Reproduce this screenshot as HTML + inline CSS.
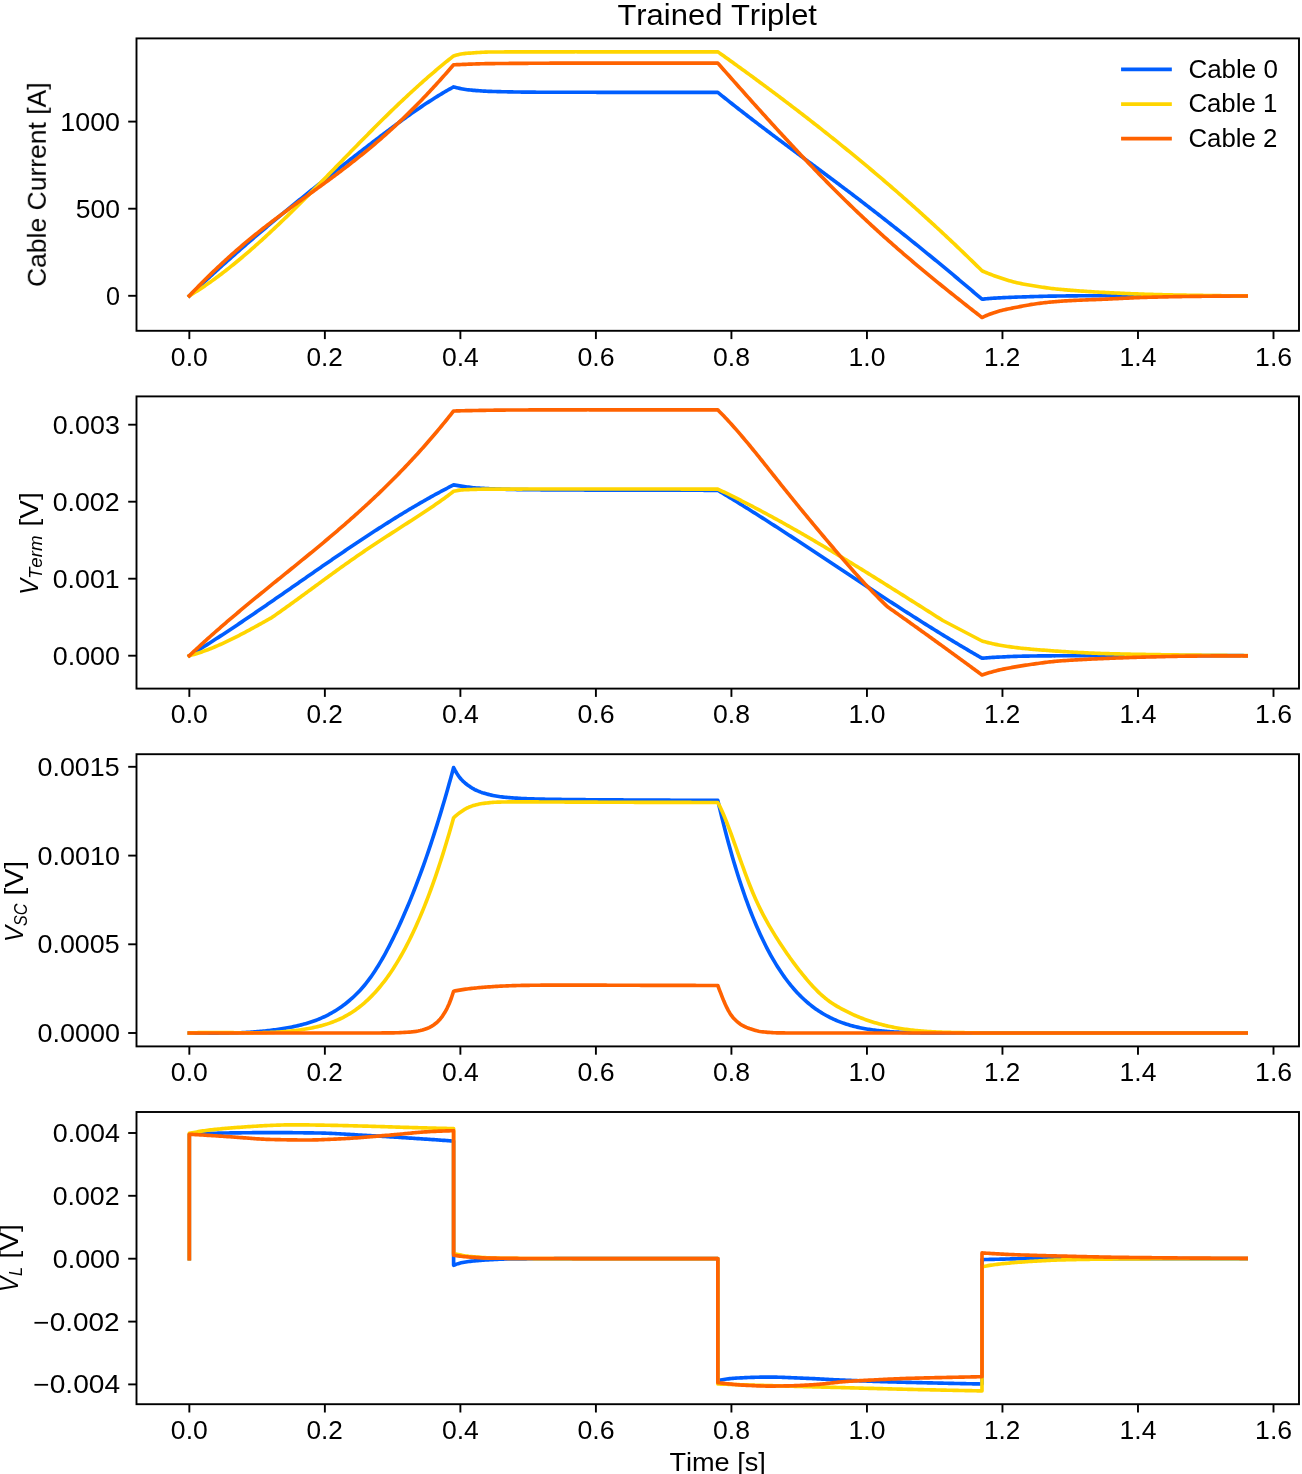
<!DOCTYPE html>
<html><head><meta charset="utf-8"><title>Trained Triplet</title>
<style>html,body{margin:0;padding:0;background:#fff;width:1302px;height:1474px;overflow:hidden;font-family:"Liberation Sans",sans-serif;}svg{display:block;font-family:"Liberation Sans",sans-serif;}</style>
</head><body>
<svg width="1302" height="1474" viewBox="0 0 1302 1474" style="font-kerning:none;">
<rect width="1302" height="1474" fill="#fff"/>
<clipPath id="c0"><rect x="136.5" y="38.4" width="1162.50" height="292.40"/></clipPath>
<g clip-path="url(#c0)" fill="none" stroke-width="3.65" stroke-linejoin="round" stroke-linecap="square">
<path d="M189.34,295.80 L190.85,294.37 L192.36,292.95 L193.87,291.53 L195.38,290.12 L196.89,288.70 L198.40,287.30 L199.91,285.89 L201.42,284.49 L202.93,283.09 L204.44,281.70 L205.95,280.31 L207.46,278.92 L208.97,277.54 L210.48,276.16 L211.99,274.78 L213.50,273.41 L215.01,272.04 L216.52,270.67 L218.03,269.30 L219.54,267.94 L221.05,266.59 L222.56,265.23 L224.07,263.88 L225.58,262.53 L227.09,261.19 L228.60,259.85 L230.11,258.51 L231.62,257.17 L233.13,255.84 L234.64,254.51 L236.15,253.18 L237.66,251.86 L239.17,250.54 L240.68,249.22 L242.19,247.90 L243.70,246.59 L245.21,245.28 L246.72,243.97 L248.23,242.67 L249.74,241.37 L251.25,240.07 L252.76,238.77 L254.27,237.48 L255.78,236.19 L257.29,234.90 L258.80,233.62 L260.31,232.33 L261.82,231.05 L263.33,229.77 L264.84,228.50 L266.35,227.23 L267.86,225.96 L269.37,224.69 L270.88,223.42 L272.39,222.16 L273.90,220.90 L275.41,219.64 L276.92,218.38 L278.43,217.13 L279.94,215.87 L281.45,214.62 L282.96,213.38 L284.47,212.13 L285.98,210.89 L287.49,209.64 L289.00,208.40 L290.51,207.17 L292.02,205.93 L293.53,204.70 L295.04,203.47 L296.55,202.24 L298.06,201.01 L299.57,199.78 L301.08,198.56 L302.59,197.34 L304.10,196.12 L305.61,194.90 L307.12,193.68 L308.63,192.47 L310.14,191.25 L311.65,190.04 L313.16,188.83 L314.67,187.62 L316.18,186.42 L317.69,185.21 L319.20,184.01 L320.71,182.81 L322.23,181.60 L323.74,180.41 L325.25,179.21 L326.76,178.01 L328.27,176.82 L329.78,175.62 L331.29,174.43 L332.80,173.24 L334.31,172.05 L335.82,170.86 L337.33,169.67 L338.84,168.49 L340.35,167.30 L341.86,166.12 L343.37,164.94 L344.88,163.76 L346.39,162.58 L347.90,161.40 L349.41,160.22 L350.92,159.04 L352.43,157.87 L353.94,156.69 L355.45,155.52 L356.96,154.35 L358.47,153.17 L359.98,152.00 L361.49,150.84 L363.00,149.67 L364.51,148.50 L366.02,147.34 L367.53,146.17 L369.04,145.01 L370.55,143.85 L372.06,142.70 L373.57,141.54 L375.08,140.38 L376.59,139.23 L378.10,138.08 L379.61,136.93 L381.12,135.79 L382.63,134.65 L384.14,133.51 L385.65,132.37 L387.16,131.23 L388.67,130.10 L390.18,128.98 L391.69,127.85 L393.20,126.73 L394.71,125.62 L396.22,124.50 L397.73,123.39 L399.24,122.29 L400.75,121.19 L402.26,120.10 L403.77,119.01 L405.28,117.92 L406.79,116.84 L408.30,115.77 L409.81,114.70 L411.32,113.63 L412.83,112.58 L414.34,111.52 L415.85,110.48 L417.36,109.44 L418.87,108.41 L420.38,107.38 L421.89,106.37 L423.40,105.35 L424.91,104.35 L426.42,103.35 L427.93,102.37 L429.44,101.39 L430.95,100.41 L432.46,99.45 L433.97,98.49 L435.48,97.54 L436.99,96.60 L438.50,95.67 L440.01,94.75 L441.52,93.84 L443.03,92.94 L444.54,92.05 L446.05,91.16 L447.56,90.29 L449.07,89.43 L450.58,88.57 L452.09,87.73 L453.60,86.90 L455.11,87.30 L456.62,87.68 L458.13,88.04 L459.64,88.37 L461.15,88.68 L462.66,88.97 L464.17,89.23 L465.68,89.47 L467.19,89.69 L468.70,89.88 L470.21,90.04 L471.72,90.18 L473.23,90.31 L474.74,90.44 L476.25,90.57 L477.76,90.69 L479.27,90.80 L480.77,90.90 L482.28,91.00 L483.79,91.09 L485.30,91.17 L486.81,91.24 L488.32,91.31 L489.83,91.36 L491.34,91.41 L492.85,91.45 L494.36,91.50 L495.87,91.54 L497.38,91.58 L498.89,91.62 L500.40,91.66 L501.91,91.70 L503.42,91.73 L504.93,91.77 L506.44,91.80 L507.95,91.83 L509.46,91.87 L510.97,91.90 L512.48,91.93 L513.99,91.95 L515.50,91.98 L517.01,92.00 L518.52,92.03 L520.03,92.05 L521.54,92.07 L523.05,92.09 L524.56,92.11 L526.07,92.13 L527.58,92.14 L529.09,92.15 L530.60,92.17 L532.11,92.18 L533.61,92.19 L535.12,92.19 L536.63,92.20 L538.14,92.20 L539.65,92.21 L541.16,92.21 L542.67,92.22 L544.18,92.22 L545.69,92.22 L547.20,92.23 L548.71,92.23 L550.22,92.23 L551.73,92.24 L553.24,92.24 L554.75,92.24 L556.26,92.25 L557.77,92.25 L559.28,92.25 L560.79,92.25 L562.30,92.26 L563.81,92.26 L565.32,92.26 L566.83,92.26 L568.34,92.26 L569.85,92.27 L571.36,92.27 L572.87,92.27 L574.38,92.27 L575.89,92.27 L577.40,92.28 L578.91,92.28 L580.42,92.28 L581.93,92.28 L583.44,92.28 L584.95,92.28 L586.45,92.29 L587.96,92.29 L589.47,92.29 L590.98,92.29 L592.49,92.29 L594.00,92.29 L595.51,92.30 L597.02,92.30 L598.53,92.30 L600.04,92.30 L601.55,92.30 L603.06,92.30 L604.57,92.31 L606.08,92.31 L607.59,92.31 L609.10,92.31 L610.61,92.31 L612.12,92.31 L613.63,92.32 L615.14,92.32 L616.65,92.32 L618.16,92.32 L619.67,92.32 L621.18,92.32 L622.69,92.33 L624.20,92.33 L625.71,92.33 L627.22,92.33 L628.73,92.33 L630.24,92.33 L631.75,92.33 L633.26,92.34 L634.77,92.34 L636.28,92.34 L637.79,92.34 L639.29,92.34 L640.80,92.34 L642.31,92.35 L643.82,92.35 L645.33,92.35 L646.84,92.35 L648.35,92.35 L649.86,92.35 L651.37,92.35 L652.88,92.36 L654.39,92.36 L655.90,92.36 L657.41,92.36 L658.92,92.36 L660.43,92.36 L661.94,92.36 L663.45,92.37 L664.96,92.37 L666.47,92.37 L667.98,92.37 L669.49,92.37 L671.00,92.37 L672.51,92.37 L674.02,92.37 L675.53,92.38 L677.04,92.38 L678.55,92.38 L680.06,92.38 L681.57,92.38 L683.08,92.38 L684.59,92.38 L686.10,92.38 L687.61,92.38 L689.12,92.39 L690.63,92.39 L692.13,92.39 L693.64,92.39 L695.15,92.39 L696.66,92.39 L698.17,92.39 L699.68,92.39 L701.19,92.39 L702.70,92.39 L704.21,92.39 L705.72,92.39 L707.23,92.40 L708.74,92.40 L710.25,92.40 L711.76,92.40 L713.27,92.40 L714.78,92.40 L716.29,92.40 L717.80,92.40 L719.31,93.62 L720.82,94.84 L722.33,96.05 L723.84,97.26 L725.35,98.47 L726.86,99.67 L728.37,100.87 L729.88,102.07 L731.39,103.27 L732.90,104.46 L734.41,105.65 L735.92,106.83 L737.43,108.02 L738.94,109.20 L740.45,110.37 L741.96,111.55 L743.47,112.72 L744.97,113.89 L746.48,115.06 L747.99,116.23 L749.50,117.39 L751.01,118.55 L752.52,119.71 L754.03,120.87 L755.54,122.02 L757.05,123.17 L758.56,124.33 L760.07,125.47 L761.58,126.62 L763.09,127.77 L764.60,128.91 L766.11,130.05 L767.62,131.19 L769.13,132.33 L770.64,133.47 L772.15,134.61 L773.66,135.74 L775.17,136.87 L776.68,138.01 L778.19,139.14 L779.70,140.27 L781.21,141.40 L782.72,142.52 L784.23,143.65 L785.74,144.78 L787.25,145.90 L788.76,147.03 L790.27,148.15 L791.78,149.27 L793.29,150.40 L794.80,151.52 L796.31,152.64 L797.81,153.76 L799.32,154.88 L800.83,156.00 L802.34,157.12 L803.85,158.24 L805.36,159.36 L806.87,160.48 L808.38,161.60 L809.89,162.72 L811.40,163.84 L812.91,164.96 L814.42,166.08 L815.93,167.20 L817.44,168.32 L818.95,169.44 L820.46,170.56 L821.97,171.68 L823.48,172.81 L824.99,173.93 L826.50,175.05 L828.01,176.18 L829.52,177.30 L831.03,178.43 L832.54,179.56 L834.05,180.69 L835.56,181.81 L837.07,182.94 L838.58,184.08 L840.09,185.21 L841.60,186.34 L843.11,187.48 L844.62,188.61 L846.13,189.75 L847.64,190.89 L849.15,192.03 L850.65,193.17 L852.16,194.32 L853.67,195.46 L855.18,196.61 L856.69,197.76 L858.20,198.91 L859.71,200.07 L861.22,201.22 L862.73,202.38 L864.24,203.54 L865.75,204.70 L867.26,205.86 L868.77,207.02 L870.28,208.19 L871.79,209.36 L873.30,210.53 L874.81,211.70 L876.32,212.87 L877.83,214.04 L879.34,215.22 L880.85,216.40 L882.36,217.58 L883.87,218.76 L885.38,219.94 L886.89,221.13 L888.40,222.32 L889.91,223.51 L891.42,224.70 L892.93,225.89 L894.44,227.08 L895.95,228.28 L897.46,229.48 L898.97,230.68 L900.48,231.88 L901.99,233.08 L903.49,234.28 L905.00,235.49 L906.51,236.70 L908.02,237.91 L909.53,239.12 L911.04,240.33 L912.55,241.55 L914.06,242.76 L915.57,243.98 L917.08,245.20 L918.59,246.42 L920.10,247.65 L921.61,248.87 L923.12,250.10 L924.63,251.32 L926.14,252.55 L927.65,253.79 L929.16,255.02 L930.67,256.25 L932.18,257.49 L933.69,258.73 L935.20,259.97 L936.71,261.21 L938.22,262.45 L939.73,263.70 L941.24,264.94 L942.75,266.19 L944.26,267.44 L945.77,268.69 L947.28,269.95 L948.79,271.20 L950.30,272.46 L951.81,273.71 L953.32,274.97 L954.83,276.23 L956.33,277.50 L957.84,278.76 L959.35,280.03 L960.86,281.29 L962.37,282.56 L963.88,283.83 L965.39,285.11 L966.90,286.38 L968.41,287.65 L969.92,288.93 L971.43,290.21 L972.94,291.49 L974.45,292.77 L975.96,294.05 L977.47,295.34 L978.98,296.63 L980.49,297.91 L982.00,299.20 L983.51,299.06 L985.02,298.92 L986.53,298.78 L988.04,298.65 L989.55,298.52 L991.06,298.40 L992.57,298.28 L994.08,298.17 L995.59,298.07 L997.10,297.97 L998.61,297.89 L1000.12,297.81 L1001.63,297.73 L1003.14,297.66 L1004.65,297.59 L1006.16,297.52 L1007.67,297.45 L1009.17,297.39 L1010.68,297.33 L1012.19,297.27 L1013.70,297.21 L1015.21,297.16 L1016.72,297.11 L1018.23,297.05 L1019.74,297.00 L1021.25,296.95 L1022.76,296.90 L1024.27,296.86 L1025.78,296.81 L1027.29,296.76 L1028.80,296.72 L1030.31,296.67 L1031.82,296.62 L1033.33,296.58 L1034.84,296.53 L1036.35,296.49 L1037.86,296.45 L1039.37,296.40 L1040.88,296.36 L1042.39,296.32 L1043.90,296.29 L1045.41,296.25 L1046.92,296.22 L1048.43,296.19 L1049.94,296.16 L1051.45,296.13 L1052.96,296.11 L1054.47,296.09 L1055.98,296.07 L1057.49,296.05 L1059.00,296.03 L1060.51,296.01 L1062.01,295.99 L1063.52,295.97 L1065.03,295.95 L1066.54,295.93 L1068.05,295.92 L1069.56,295.90 L1071.07,295.88 L1072.58,295.86 L1074.09,295.85 L1075.60,295.83 L1077.11,295.82 L1078.62,295.80 L1080.13,295.79 L1081.64,295.78 L1083.15,295.77 L1084.66,295.76 L1086.17,295.75 L1087.68,295.74 L1089.19,295.73 L1090.70,295.72 L1092.21,295.71 L1093.72,295.71 L1095.23,295.71 L1096.74,295.70 L1098.25,295.70 L1099.76,295.70 L1101.27,295.70 L1102.78,295.70 L1104.29,295.70 L1105.80,295.70 L1107.31,295.70 L1108.82,295.71 L1110.33,295.71 L1111.84,295.71 L1113.35,295.71 L1114.85,295.72 L1116.36,295.72 L1117.87,295.72 L1119.38,295.73 L1120.89,295.73 L1122.40,295.73 L1123.91,295.74 L1125.42,295.74 L1126.93,295.75 L1128.44,295.75 L1129.95,295.75 L1131.46,295.76 L1132.97,295.76 L1134.48,295.77 L1135.99,295.77 L1137.50,295.77 L1139.01,295.78 L1140.52,295.78 L1142.03,295.79 L1143.54,295.79 L1145.05,295.79 L1146.56,295.79 L1148.07,295.80 L1149.58,295.80 L1151.09,295.80 L1152.60,295.80 L1154.11,295.81 L1155.62,295.81 L1157.13,295.81 L1158.64,295.81 L1160.15,295.81 L1161.66,295.82 L1163.17,295.82 L1164.68,295.82 L1166.19,295.82 L1167.69,295.82 L1169.20,295.83 L1170.71,295.83 L1172.22,295.83 L1173.73,295.83 L1175.24,295.83 L1176.75,295.84 L1178.26,295.84 L1179.77,295.84 L1181.28,295.84 L1182.79,295.84 L1184.30,295.85 L1185.81,295.85 L1187.32,295.85 L1188.83,295.85 L1190.34,295.85 L1191.85,295.85 L1193.36,295.86 L1194.87,295.86 L1196.38,295.86 L1197.89,295.86 L1199.40,295.86 L1200.91,295.87 L1202.42,295.87 L1203.93,295.87 L1205.44,295.87 L1206.95,295.87 L1208.46,295.87 L1209.97,295.87 L1211.48,295.88 L1212.99,295.88 L1214.50,295.88 L1216.01,295.88 L1217.52,295.88 L1219.03,295.88 L1220.53,295.88 L1222.04,295.89 L1223.55,295.89 L1225.06,295.89 L1226.57,295.89 L1228.08,295.89 L1229.59,295.89 L1231.10,295.89 L1232.61,295.89 L1234.12,295.89 L1235.63,295.89 L1237.14,295.90 L1238.65,295.90 L1240.16,295.90 L1241.67,295.90 L1243.18,295.90 L1244.69,295.90 L1246.20,295.90" stroke="#005eff"/>
<path d="M189.34,295.80 L190.85,294.89 L192.36,293.97 L193.87,293.03 L195.38,292.08 L196.89,291.12 L198.40,290.15 L199.91,289.17 L201.42,288.17 L202.93,287.16 L204.44,286.14 L205.95,285.11 L207.46,284.06 L208.97,283.01 L210.48,281.94 L211.99,280.87 L213.50,279.78 L215.01,278.68 L216.52,277.57 L218.03,276.45 L219.54,275.32 L221.05,274.18 L222.56,273.03 L224.07,271.87 L225.58,270.70 L227.09,269.52 L228.60,268.33 L230.11,267.14 L231.62,265.93 L233.13,264.71 L234.64,263.49 L236.15,262.25 L237.66,261.01 L239.17,259.76 L240.68,258.50 L242.19,257.23 L243.70,255.95 L245.21,254.67 L246.72,253.38 L248.23,252.08 L249.74,250.77 L251.25,249.45 L252.76,248.13 L254.27,246.79 L255.78,245.46 L257.29,244.11 L258.80,242.76 L260.31,241.40 L261.82,240.03 L263.33,238.66 L264.84,237.28 L266.35,235.89 L267.86,234.50 L269.37,233.10 L270.88,231.69 L272.39,230.28 L273.90,228.86 L275.41,227.44 L276.92,226.01 L278.43,224.57 L279.94,223.13 L281.45,221.69 L282.96,220.24 L284.47,218.78 L285.98,217.32 L287.49,215.85 L289.00,214.38 L290.51,212.91 L292.02,211.43 L293.53,209.94 L295.04,208.46 L296.55,206.96 L298.06,205.47 L299.57,203.97 L301.08,202.46 L302.59,200.95 L304.10,199.44 L305.61,197.93 L307.12,196.41 L308.63,194.89 L310.14,193.36 L311.65,191.84 L313.16,190.31 L314.67,188.77 L316.18,187.24 L317.69,185.70 L319.20,184.16 L320.71,182.62 L322.23,181.08 L323.74,179.53 L325.25,177.98 L326.76,176.44 L328.27,174.89 L329.78,173.34 L331.29,171.79 L332.80,170.23 L334.31,168.68 L335.82,167.13 L337.33,165.57 L338.84,164.02 L340.35,162.47 L341.86,160.91 L343.37,159.36 L344.88,157.81 L346.39,156.26 L347.90,154.70 L349.41,153.15 L350.92,151.60 L352.43,150.05 L353.94,148.51 L355.45,146.96 L356.96,145.42 L358.47,143.87 L359.98,142.33 L361.49,140.79 L363.00,139.26 L364.51,137.72 L366.02,136.19 L367.53,134.66 L369.04,133.14 L370.55,131.61 L372.06,130.09 L373.57,128.58 L375.08,127.06 L376.59,125.55 L378.10,124.05 L379.61,122.55 L381.12,121.05 L382.63,119.55 L384.14,118.06 L385.65,116.58 L387.16,115.10 L388.67,113.62 L390.18,112.15 L391.69,110.68 L393.20,109.22 L394.71,107.77 L396.22,106.32 L397.73,104.87 L399.24,103.43 L400.75,102.00 L402.26,100.57 L403.77,99.15 L405.28,97.73 L406.79,96.32 L408.30,94.92 L409.81,93.52 L411.32,92.13 L412.83,90.74 L414.34,89.36 L415.85,87.99 L417.36,86.62 L418.87,85.26 L420.38,83.91 L421.89,82.56 L423.40,81.22 L424.91,79.89 L426.42,78.56 L427.93,77.24 L429.44,75.93 L430.95,74.62 L432.46,73.32 L433.97,72.03 L435.48,70.74 L436.99,69.47 L438.50,68.19 L440.01,66.93 L441.52,65.68 L443.03,64.43 L444.54,63.19 L446.05,61.95 L447.56,60.73 L449.07,59.51 L450.58,58.30 L452.09,57.10 L453.60,55.90 L455.11,55.45 L456.62,55.04 L458.13,54.66 L459.64,54.32 L461.15,54.03 L462.66,53.78 L464.17,53.58 L465.68,53.42 L467.19,53.29 L468.70,53.18 L470.21,53.07 L471.72,52.97 L473.23,52.86 L474.74,52.76 L476.25,52.65 L477.76,52.55 L479.27,52.45 L480.77,52.36 L482.28,52.28 L483.79,52.20 L485.30,52.13 L486.81,52.08 L488.32,52.04 L489.83,52.01 L491.34,52.00 L492.85,51.99 L494.36,51.98 L495.87,51.98 L497.38,51.97 L498.89,51.97 L500.40,51.96 L501.91,51.95 L503.42,51.95 L504.93,51.94 L506.44,51.94 L507.95,51.93 L509.46,51.93 L510.97,51.92 L512.48,51.91 L513.99,51.91 L515.50,51.91 L517.01,51.90 L518.52,51.90 L520.03,51.89 L521.54,51.89 L523.05,51.88 L524.56,51.88 L526.07,51.88 L527.58,51.87 L529.09,51.87 L530.60,51.86 L532.11,51.86 L533.61,51.86 L535.12,51.85 L536.63,51.85 L538.14,51.85 L539.65,51.85 L541.16,51.84 L542.67,51.84 L544.18,51.84 L545.69,51.83 L547.20,51.83 L548.71,51.83 L550.22,51.83 L551.73,51.83 L553.24,51.82 L554.75,51.82 L556.26,51.82 L557.77,51.82 L559.28,51.82 L560.79,51.82 L562.30,51.81 L563.81,51.81 L565.32,51.81 L566.83,51.81 L568.34,51.81 L569.85,51.81 L571.36,51.81 L572.87,51.81 L574.38,51.81 L575.89,51.80 L577.40,51.80 L578.91,51.80 L580.42,51.80 L581.93,51.80 L583.44,51.80 L584.95,51.80 L586.45,51.80 L587.96,51.80 L589.47,51.80 L590.98,51.80 L592.49,51.80 L594.00,51.80 L595.51,51.80 L597.02,51.80 L598.53,51.80 L600.04,51.80 L601.55,51.80 L603.06,51.80 L604.57,51.80 L606.08,51.80 L607.59,51.80 L609.10,51.80 L610.61,51.80 L612.12,51.80 L613.63,51.80 L615.14,51.80 L616.65,51.80 L618.16,51.80 L619.67,51.80 L621.18,51.80 L622.69,51.80 L624.20,51.80 L625.71,51.80 L627.22,51.80 L628.73,51.80 L630.24,51.80 L631.75,51.80 L633.26,51.80 L634.77,51.80 L636.28,51.80 L637.79,51.80 L639.29,51.80 L640.80,51.80 L642.31,51.80 L643.82,51.80 L645.33,51.80 L646.84,51.80 L648.35,51.80 L649.86,51.80 L651.37,51.80 L652.88,51.80 L654.39,51.80 L655.90,51.80 L657.41,51.80 L658.92,51.80 L660.43,51.80 L661.94,51.80 L663.45,51.80 L664.96,51.80 L666.47,51.80 L667.98,51.80 L669.49,51.80 L671.00,51.80 L672.51,51.80 L674.02,51.80 L675.53,51.80 L677.04,51.80 L678.55,51.80 L680.06,51.80 L681.57,51.80 L683.08,51.80 L684.59,51.80 L686.10,51.80 L687.61,51.80 L689.12,51.80 L690.63,51.80 L692.13,51.80 L693.64,51.80 L695.15,51.80 L696.66,51.80 L698.17,51.80 L699.68,51.80 L701.19,51.80 L702.70,51.80 L704.21,51.80 L705.72,51.80 L707.23,51.80 L708.74,51.80 L710.25,51.80 L711.76,51.80 L713.27,51.80 L714.78,51.80 L716.29,51.80 L717.80,51.80 L719.31,52.87 L720.82,53.95 L722.33,55.03 L723.84,56.10 L725.35,57.18 L726.86,58.26 L728.37,59.35 L729.88,60.43 L731.39,61.51 L732.90,62.60 L734.41,63.69 L735.92,64.78 L737.43,65.87 L738.94,66.96 L740.45,68.05 L741.96,69.15 L743.47,70.24 L744.97,71.34 L746.48,72.44 L747.99,73.54 L749.50,74.64 L751.01,75.75 L752.52,76.85 L754.03,77.96 L755.54,79.07 L757.05,80.18 L758.56,81.29 L760.07,82.41 L761.58,83.52 L763.09,84.64 L764.60,85.76 L766.11,86.88 L767.62,88.00 L769.13,89.12 L770.64,90.25 L772.15,91.38 L773.66,92.50 L775.17,93.63 L776.68,94.77 L778.19,95.90 L779.70,97.04 L781.21,98.18 L782.72,99.31 L784.23,100.46 L785.74,101.60 L787.25,102.74 L788.76,103.89 L790.27,105.04 L791.78,106.19 L793.29,107.34 L794.80,108.50 L796.31,109.66 L797.81,110.81 L799.32,111.98 L800.83,113.14 L802.34,114.30 L803.85,115.47 L805.36,116.64 L806.87,117.81 L808.38,118.98 L809.89,120.16 L811.40,121.33 L812.91,122.51 L814.42,123.69 L815.93,124.88 L817.44,126.06 L818.95,127.25 L820.46,128.44 L821.97,129.63 L823.48,130.82 L824.99,132.02 L826.50,133.22 L828.01,134.42 L829.52,135.62 L831.03,136.82 L832.54,138.03 L834.05,139.24 L835.56,140.45 L837.07,141.67 L838.58,142.88 L840.09,144.10 L841.60,145.32 L843.11,146.55 L844.62,147.77 L846.13,149.00 L847.64,150.23 L849.15,151.46 L850.65,152.70 L852.16,153.93 L853.67,155.17 L855.18,156.42 L856.69,157.66 L858.20,158.91 L859.71,160.16 L861.22,161.41 L862.73,162.67 L864.24,163.92 L865.75,165.18 L867.26,166.44 L868.77,167.71 L870.28,168.98 L871.79,170.25 L873.30,171.52 L874.81,172.80 L876.32,174.07 L877.83,175.35 L879.34,176.64 L880.85,177.92 L882.36,179.21 L883.87,180.50 L885.38,181.80 L886.89,183.09 L888.40,184.39 L889.91,185.69 L891.42,187.00 L892.93,188.31 L894.44,189.62 L895.95,190.93 L897.46,192.25 L898.97,193.56 L900.48,194.89 L901.99,196.21 L903.49,197.54 L905.00,198.87 L906.51,200.20 L908.02,201.54 L909.53,202.88 L911.04,204.22 L912.55,205.56 L914.06,206.91 L915.57,208.26 L917.08,209.61 L918.59,210.97 L920.10,212.33 L921.61,213.69 L923.12,215.06 L924.63,216.43 L926.14,217.80 L927.65,219.17 L929.16,220.55 L930.67,221.93 L932.18,223.31 L933.69,224.70 L935.20,226.09 L936.71,227.48 L938.22,228.88 L939.73,230.28 L941.24,231.68 L942.75,233.09 L944.26,234.50 L945.77,235.91 L947.28,237.32 L948.79,238.74 L950.30,240.17 L951.81,241.59 L953.32,243.02 L954.83,244.45 L956.33,245.89 L957.84,247.32 L959.35,248.77 L960.86,250.21 L962.37,251.66 L963.88,253.11 L965.39,254.57 L966.90,256.03 L968.41,257.49 L969.92,258.95 L971.43,260.42 L972.94,261.89 L974.45,263.37 L975.96,264.85 L977.47,266.33 L978.98,267.82 L980.49,269.31 L982.00,270.80 L983.51,271.45 L985.02,272.09 L986.53,272.72 L988.04,273.33 L989.55,273.94 L991.06,274.53 L992.57,275.11 L994.08,275.67 L995.59,276.22 L997.10,276.75 L998.61,277.27 L1000.12,277.78 L1001.63,278.28 L1003.14,278.78 L1004.65,279.27 L1006.16,279.74 L1007.67,280.21 L1009.17,280.66 L1010.68,281.10 L1012.19,281.52 L1013.70,281.92 L1015.21,282.30 L1016.72,282.66 L1018.23,283.00 L1019.74,283.32 L1021.25,283.63 L1022.76,283.93 L1024.27,284.22 L1025.78,284.50 L1027.29,284.77 L1028.80,285.03 L1030.31,285.29 L1031.82,285.54 L1033.33,285.78 L1034.84,286.03 L1036.35,286.27 L1037.86,286.51 L1039.37,286.74 L1040.88,286.97 L1042.39,287.20 L1043.90,287.42 L1045.41,287.64 L1046.92,287.85 L1048.43,288.06 L1049.94,288.25 L1051.45,288.44 L1052.96,288.62 L1054.47,288.78 L1055.98,288.95 L1057.49,289.10 L1059.00,289.26 L1060.51,289.40 L1062.01,289.54 L1063.52,289.68 L1065.03,289.81 L1066.54,289.94 L1068.05,290.07 L1069.56,290.19 L1071.07,290.31 L1072.58,290.43 L1074.09,290.54 L1075.60,290.66 L1077.11,290.77 L1078.62,290.88 L1080.13,290.99 L1081.64,291.09 L1083.15,291.19 L1084.66,291.29 L1086.17,291.39 L1087.68,291.49 L1089.19,291.59 L1090.70,291.68 L1092.21,291.77 L1093.72,291.86 L1095.23,291.95 L1096.74,292.03 L1098.25,292.12 L1099.76,292.20 L1101.27,292.28 L1102.78,292.36 L1104.29,292.44 L1105.80,292.51 L1107.31,292.59 L1108.82,292.67 L1110.33,292.74 L1111.84,292.82 L1113.35,292.89 L1114.85,292.97 L1116.36,293.04 L1117.87,293.11 L1119.38,293.18 L1120.89,293.25 L1122.40,293.32 L1123.91,293.39 L1125.42,293.46 L1126.93,293.52 L1128.44,293.59 L1129.95,293.65 L1131.46,293.71 L1132.97,293.77 L1134.48,293.83 L1135.99,293.89 L1137.50,293.94 L1139.01,294.00 L1140.52,294.05 L1142.03,294.10 L1143.54,294.15 L1145.05,294.20 L1146.56,294.25 L1148.07,294.30 L1149.58,294.34 L1151.09,294.38 L1152.60,294.43 L1154.11,294.47 L1155.62,294.51 L1157.13,294.55 L1158.64,294.59 L1160.15,294.63 L1161.66,294.67 L1163.17,294.71 L1164.68,294.74 L1166.19,294.78 L1167.69,294.82 L1169.20,294.85 L1170.71,294.89 L1172.22,294.92 L1173.73,294.95 L1175.24,294.98 L1176.75,295.02 L1178.26,295.05 L1179.77,295.08 L1181.28,295.11 L1182.79,295.13 L1184.30,295.16 L1185.81,295.19 L1187.32,295.21 L1188.83,295.24 L1190.34,295.26 L1191.85,295.29 L1193.36,295.31 L1194.87,295.33 L1196.38,295.36 L1197.89,295.38 L1199.40,295.40 L1200.91,295.42 L1202.42,295.44 L1203.93,295.46 L1205.44,295.49 L1206.95,295.51 L1208.46,295.53 L1209.97,295.55 L1211.48,295.57 L1212.99,295.59 L1214.50,295.61 L1216.01,295.63 L1217.52,295.64 L1219.03,295.66 L1220.53,295.68 L1222.04,295.70 L1223.55,295.71 L1225.06,295.73 L1226.57,295.75 L1228.08,295.76 L1229.59,295.78 L1231.10,295.79 L1232.61,295.80 L1234.12,295.82 L1235.63,295.83 L1237.14,295.84 L1238.65,295.85 L1240.16,295.86 L1241.67,295.87 L1243.18,295.88 L1244.69,295.89 L1246.20,295.90" stroke="#ffd500"/>
<path d="M189.34,295.80 L190.85,294.21 L192.36,292.62 L193.87,291.05 L195.38,289.48 L196.89,287.93 L198.40,286.38 L199.91,284.85 L201.42,283.32 L202.93,281.80 L204.44,280.29 L205.95,278.79 L207.46,277.31 L208.97,275.83 L210.48,274.35 L211.99,272.89 L213.50,271.44 L215.01,270.00 L216.52,268.56 L218.03,267.14 L219.54,265.72 L221.05,264.31 L222.56,262.91 L224.07,261.52 L225.58,260.14 L227.09,258.77 L228.60,257.40 L230.11,256.05 L231.62,254.70 L233.13,253.36 L234.64,252.03 L236.15,250.71 L237.66,249.40 L239.17,248.09 L240.68,246.80 L242.19,245.51 L243.70,244.23 L245.21,242.96 L246.72,241.69 L248.23,240.44 L249.74,239.19 L251.25,237.95 L252.76,236.72 L254.27,235.49 L255.78,234.28 L257.29,233.07 L258.80,231.87 L260.31,230.67 L261.82,229.48 L263.33,228.30 L264.84,227.12 L266.35,225.95 L267.86,224.78 L269.37,223.62 L270.88,222.47 L272.39,221.32 L273.90,220.17 L275.41,219.03 L276.92,217.90 L278.43,216.76 L279.94,215.64 L281.45,214.51 L282.96,213.39 L284.47,212.27 L285.98,211.16 L287.49,210.05 L289.00,208.94 L290.51,207.84 L292.02,206.73 L293.53,205.63 L295.04,204.53 L296.55,203.44 L298.06,202.34 L299.57,201.25 L301.08,200.15 L302.59,199.06 L304.10,197.97 L305.61,196.88 L307.12,195.79 L308.63,194.70 L310.14,193.60 L311.65,192.51 L313.16,191.42 L314.67,190.33 L316.18,189.24 L317.69,188.14 L319.20,187.05 L320.71,185.95 L322.23,184.85 L323.74,183.75 L325.25,182.64 L326.76,181.54 L328.27,180.43 L329.78,179.32 L331.29,178.20 L332.80,177.09 L334.31,175.97 L335.82,174.84 L337.33,173.71 L338.84,172.58 L340.35,171.45 L341.86,170.30 L343.37,169.16 L344.88,168.01 L346.39,166.85 L347.90,165.69 L349.41,164.53 L350.92,163.35 L352.43,162.18 L353.94,160.99 L355.45,159.81 L356.96,158.61 L358.47,157.41 L359.98,156.20 L361.49,154.99 L363.00,153.77 L364.51,152.54 L366.02,151.31 L367.53,150.06 L369.04,148.82 L370.55,147.56 L372.06,146.30 L373.57,145.02 L375.08,143.75 L376.59,142.46 L378.10,141.16 L379.61,139.86 L381.12,138.55 L382.63,137.23 L384.14,135.90 L385.65,134.57 L387.16,133.22 L388.67,131.86 L390.18,130.50 L391.69,129.13 L393.20,127.74 L394.71,126.35 L396.22,124.95 L397.73,123.54 L399.24,122.11 L400.75,120.68 L402.26,119.24 L403.77,117.79 L405.28,116.33 L406.79,114.86 L408.30,113.38 L409.81,111.89 L411.32,110.40 L412.83,108.89 L414.34,107.37 L415.85,105.85 L417.36,104.31 L418.87,102.77 L420.38,101.21 L421.89,99.65 L423.40,98.08 L424.91,96.50 L426.42,94.91 L427.93,93.31 L429.44,91.70 L430.95,90.09 L432.46,88.46 L433.97,86.83 L435.48,85.18 L436.99,83.53 L438.50,81.87 L440.01,80.20 L441.52,78.52 L443.03,76.84 L444.54,75.14 L446.05,73.44 L447.56,71.73 L449.07,70.01 L450.58,68.28 L452.09,66.54 L453.60,64.80 L455.11,64.74 L456.62,64.68 L458.13,64.62 L459.64,64.56 L461.15,64.50 L462.66,64.43 L464.17,64.37 L465.68,64.31 L467.19,64.25 L468.70,64.19 L470.21,64.14 L471.72,64.08 L473.23,64.03 L474.74,63.98 L476.25,63.93 L477.76,63.88 L479.27,63.83 L480.77,63.79 L482.28,63.75 L483.79,63.72 L485.30,63.68 L486.81,63.66 L488.32,63.63 L489.83,63.61 L491.34,63.60 L492.85,63.58 L494.36,63.57 L495.87,63.55 L497.38,63.54 L498.89,63.53 L500.40,63.51 L501.91,63.50 L503.42,63.49 L504.93,63.48 L506.44,63.46 L507.95,63.45 L509.46,63.44 L510.97,63.43 L512.48,63.42 L513.99,63.41 L515.50,63.39 L517.01,63.38 L518.52,63.37 L520.03,63.36 L521.54,63.35 L523.05,63.34 L524.56,63.33 L526.07,63.32 L527.58,63.31 L529.09,63.30 L530.60,63.29 L532.11,63.29 L533.61,63.28 L535.12,63.27 L536.63,63.26 L538.14,63.25 L539.65,63.24 L541.16,63.24 L542.67,63.23 L544.18,63.22 L545.69,63.21 L547.20,63.21 L548.71,63.20 L550.22,63.19 L551.73,63.19 L553.24,63.18 L554.75,63.18 L556.26,63.17 L557.77,63.17 L559.28,63.16 L560.79,63.16 L562.30,63.15 L563.81,63.15 L565.32,63.14 L566.83,63.14 L568.34,63.13 L569.85,63.13 L571.36,63.13 L572.87,63.12 L574.38,63.12 L575.89,63.12 L577.40,63.11 L578.91,63.11 L580.42,63.11 L581.93,63.11 L583.44,63.11 L584.95,63.10 L586.45,63.10 L587.96,63.10 L589.47,63.10 L590.98,63.10 L592.49,63.10 L594.00,63.10 L595.51,63.10 L597.02,63.10 L598.53,63.10 L600.04,63.10 L601.55,63.10 L603.06,63.10 L604.57,63.10 L606.08,63.10 L607.59,63.10 L609.10,63.10 L610.61,63.10 L612.12,63.10 L613.63,63.10 L615.14,63.10 L616.65,63.10 L618.16,63.10 L619.67,63.10 L621.18,63.10 L622.69,63.10 L624.20,63.10 L625.71,63.10 L627.22,63.10 L628.73,63.10 L630.24,63.10 L631.75,63.10 L633.26,63.10 L634.77,63.10 L636.28,63.10 L637.79,63.10 L639.29,63.10 L640.80,63.10 L642.31,63.10 L643.82,63.10 L645.33,63.10 L646.84,63.10 L648.35,63.10 L649.86,63.10 L651.37,63.10 L652.88,63.10 L654.39,63.10 L655.90,63.10 L657.41,63.10 L658.92,63.10 L660.43,63.10 L661.94,63.10 L663.45,63.10 L664.96,63.10 L666.47,63.10 L667.98,63.10 L669.49,63.10 L671.00,63.10 L672.51,63.10 L674.02,63.10 L675.53,63.10 L677.04,63.10 L678.55,63.10 L680.06,63.10 L681.57,63.10 L683.08,63.10 L684.59,63.10 L686.10,63.10 L687.61,63.10 L689.12,63.10 L690.63,63.10 L692.13,63.10 L693.64,63.10 L695.15,63.10 L696.66,63.10 L698.17,63.10 L699.68,63.10 L701.19,63.10 L702.70,63.10 L704.21,63.10 L705.72,63.10 L707.23,63.10 L708.74,63.10 L710.25,63.10 L711.76,63.10 L713.27,63.10 L714.78,63.10 L716.29,63.10 L717.80,63.10 L719.31,64.81 L720.82,66.51 L722.33,68.22 L723.84,69.93 L725.35,71.63 L726.86,73.34 L728.37,75.05 L729.88,76.75 L731.39,78.45 L732.90,80.15 L734.41,81.85 L735.92,83.55 L737.43,85.25 L738.94,86.95 L740.45,88.65 L741.96,90.34 L743.47,92.04 L744.97,93.73 L746.48,95.42 L747.99,97.11 L749.50,98.80 L751.01,100.48 L752.52,102.17 L754.03,103.85 L755.54,105.53 L757.05,107.21 L758.56,108.89 L760.07,110.57 L761.58,112.24 L763.09,113.91 L764.60,115.58 L766.11,117.25 L767.62,118.92 L769.13,120.58 L770.64,122.24 L772.15,123.90 L773.66,125.55 L775.17,127.21 L776.68,128.86 L778.19,130.51 L779.70,132.15 L781.21,133.80 L782.72,135.44 L784.23,137.08 L785.74,138.71 L787.25,140.34 L788.76,141.97 L790.27,143.60 L791.78,145.22 L793.29,146.84 L794.80,148.46 L796.31,150.07 L797.81,151.69 L799.32,153.29 L800.83,154.90 L802.34,156.50 L803.85,158.10 L805.36,159.69 L806.87,161.28 L808.38,162.87 L809.89,164.45 L811.40,166.03 L812.91,167.60 L814.42,169.17 L815.93,170.74 L817.44,172.31 L818.95,173.87 L820.46,175.42 L821.97,176.97 L823.48,178.52 L824.99,180.06 L826.50,181.60 L828.01,183.14 L829.52,184.67 L831.03,186.19 L832.54,187.72 L834.05,189.23 L835.56,190.74 L837.07,192.25 L838.58,193.76 L840.09,195.25 L841.60,196.75 L843.11,198.24 L844.62,199.72 L846.13,201.20 L847.64,202.67 L849.15,204.14 L850.65,205.60 L852.16,207.06 L853.67,208.52 L855.18,209.96 L856.69,211.41 L858.20,212.84 L859.71,214.28 L861.22,215.70 L862.73,217.13 L864.24,218.54 L865.75,219.95 L867.26,221.36 L868.77,222.76 L870.28,224.16 L871.79,225.55 L873.30,226.94 L874.81,228.32 L876.32,229.70 L877.83,231.08 L879.34,232.44 L880.85,233.81 L882.36,235.17 L883.87,236.52 L885.38,237.88 L886.89,239.22 L888.40,240.56 L889.91,241.90 L891.42,243.24 L892.93,244.57 L894.44,245.89 L895.95,247.22 L897.46,248.53 L898.97,249.85 L900.48,251.16 L901.99,252.46 L903.49,253.77 L905.00,255.06 L906.51,256.36 L908.02,257.65 L909.53,258.94 L911.04,260.22 L912.55,261.50 L914.06,262.78 L915.57,264.06 L917.08,265.33 L918.59,266.59 L920.10,267.86 L921.61,269.12 L923.12,270.38 L924.63,271.63 L926.14,272.88 L927.65,274.13 L929.16,275.38 L930.67,276.62 L932.18,277.86 L933.69,279.10 L935.20,280.33 L936.71,281.56 L938.22,282.79 L939.73,284.02 L941.24,285.24 L942.75,286.46 L944.26,287.68 L945.77,288.90 L947.28,290.11 L948.79,291.32 L950.30,292.53 L951.81,293.74 L953.32,294.95 L954.83,296.15 L956.33,297.35 L957.84,298.55 L959.35,299.75 L960.86,300.94 L962.37,302.13 L963.88,303.33 L965.39,304.52 L966.90,305.70 L968.41,306.89 L969.92,308.07 L971.43,309.26 L972.94,310.44 L974.45,311.62 L975.96,312.80 L977.47,313.97 L978.98,315.15 L980.49,316.32 L982.00,317.50 L983.51,316.83 L985.02,316.17 L986.53,315.53 L988.04,314.90 L989.55,314.30 L991.06,313.72 L992.57,313.17 L994.08,312.64 L995.59,312.15 L997.10,311.68 L998.61,311.24 L1000.12,310.83 L1001.63,310.44 L1003.14,310.07 L1004.65,309.72 L1006.16,309.38 L1007.67,309.06 L1009.17,308.74 L1010.68,308.43 L1012.19,308.13 L1013.70,307.83 L1015.21,307.53 L1016.72,307.23 L1018.23,306.94 L1019.74,306.64 L1021.25,306.34 L1022.76,306.05 L1024.27,305.76 L1025.78,305.47 L1027.29,305.20 L1028.80,304.93 L1030.31,304.67 L1031.82,304.42 L1033.33,304.19 L1034.84,303.96 L1036.35,303.75 L1037.86,303.55 L1039.37,303.35 L1040.88,303.16 L1042.39,302.98 L1043.90,302.80 L1045.41,302.63 L1046.92,302.46 L1048.43,302.30 L1049.94,302.15 L1051.45,302.00 L1052.96,301.87 L1054.47,301.73 L1055.98,301.61 L1057.49,301.48 L1059.00,301.36 L1060.51,301.25 L1062.01,301.14 L1063.52,301.03 L1065.03,300.93 L1066.54,300.83 L1068.05,300.73 L1069.56,300.64 L1071.07,300.56 L1072.58,300.48 L1074.09,300.41 L1075.60,300.33 L1077.11,300.27 L1078.62,300.20 L1080.13,300.14 L1081.64,300.08 L1083.15,300.02 L1084.66,299.96 L1086.17,299.91 L1087.68,299.85 L1089.19,299.80 L1090.70,299.74 L1092.21,299.69 L1093.72,299.64 L1095.23,299.58 L1096.74,299.52 L1098.25,299.46 L1099.76,299.40 L1101.27,299.34 L1102.78,299.27 L1104.29,299.21 L1105.80,299.14 L1107.31,299.07 L1108.82,299.00 L1110.33,298.93 L1111.84,298.86 L1113.35,298.78 L1114.85,298.71 L1116.36,298.64 L1117.87,298.56 L1119.38,298.49 L1120.89,298.42 L1122.40,298.34 L1123.91,298.27 L1125.42,298.20 L1126.93,298.13 L1128.44,298.06 L1129.95,297.99 L1131.46,297.92 L1132.97,297.85 L1134.48,297.79 L1135.99,297.73 L1137.50,297.66 L1139.01,297.61 L1140.52,297.55 L1142.03,297.49 L1143.54,297.44 L1145.05,297.39 L1146.56,297.35 L1148.07,297.30 L1149.58,297.26 L1151.09,297.22 L1152.60,297.18 L1154.11,297.14 L1155.62,297.10 L1157.13,297.07 L1158.64,297.03 L1160.15,296.99 L1161.66,296.95 L1163.17,296.92 L1164.68,296.88 L1166.19,296.85 L1167.69,296.82 L1169.20,296.78 L1170.71,296.75 L1172.22,296.72 L1173.73,296.69 L1175.24,296.66 L1176.75,296.64 L1178.26,296.61 L1179.77,296.58 L1181.28,296.56 L1182.79,296.53 L1184.30,296.51 L1185.81,296.49 L1187.32,296.47 L1188.83,296.45 L1190.34,296.43 L1191.85,296.41 L1193.36,296.39 L1194.87,296.38 L1196.38,296.36 L1197.89,296.34 L1199.40,296.33 L1200.91,296.31 L1202.42,296.29 L1203.93,296.28 L1205.44,296.26 L1206.95,296.25 L1208.46,296.23 L1209.97,296.22 L1211.48,296.20 L1212.99,296.19 L1214.50,296.17 L1216.01,296.16 L1217.52,296.15 L1219.03,296.13 L1220.53,296.12 L1222.04,296.11 L1223.55,296.10 L1225.06,296.09 L1226.57,296.08 L1228.08,296.07 L1229.59,296.06 L1231.10,296.05 L1232.61,296.04 L1234.12,296.03 L1235.63,296.03 L1237.14,296.02 L1238.65,296.01 L1240.16,296.01 L1241.67,296.01 L1243.18,296.00 L1244.69,296.00 L1246.20,296.00" stroke="#ff6200"/>
</g>
<rect x="136.5" y="38.4" width="1162.50" height="292.40" fill="none" stroke="#000" stroke-width="1.9" stroke-linejoin="miter"/>
<g stroke="#000" stroke-width="1.9">
<line x1="189.34" y1="330.8" x2="189.34" y2="339.10"/>
<line x1="324.86" y1="330.8" x2="324.86" y2="339.10"/>
<line x1="460.38" y1="330.8" x2="460.38" y2="339.10"/>
<line x1="595.90" y1="330.8" x2="595.90" y2="339.10"/>
<line x1="731.42" y1="330.8" x2="731.42" y2="339.10"/>
<line x1="866.94" y1="330.8" x2="866.94" y2="339.10"/>
<line x1="1002.46" y1="330.8" x2="1002.46" y2="339.10"/>
<line x1="1137.98" y1="330.8" x2="1137.98" y2="339.10"/>
<line x1="1273.50" y1="330.8" x2="1273.50" y2="339.10"/>
<line x1="136.5" y1="295.8" x2="128.20" y2="295.8"/>
<line x1="136.5" y1="208.7" x2="128.20" y2="208.7"/>
<line x1="136.5" y1="121.6" x2="128.20" y2="121.6"/>
</g>
<g fill="#000" style="filter:grayscale(1)">
<text transform="translate(170.87,365.50) scale(1.0484,1)" font-size="25.33">0.0</text>
<text transform="translate(306.41,365.50) scale(1.0330,1)" font-size="25.33">0.2</text>
<text transform="translate(441.91,365.50) scale(1.0479,1)" font-size="25.33">0.4</text>
<text transform="translate(577.43,365.50) scale(1.0548,1)" font-size="25.33">0.6</text>
<text transform="translate(712.95,365.50) scale(1.0505,1)" font-size="25.33">0.8</text>
<text transform="translate(848.54,365.50) scale(1.0464,1)" font-size="25.33">1.0</text>
<text transform="translate(984.09,365.50) scale(1.0305,1)" font-size="25.33">1.2</text>
<text transform="translate(1119.58,365.50) scale(1.0459,1)" font-size="25.33">1.4</text>
<text transform="translate(1255.09,365.50) scale(1.0529,1)" font-size="25.33">1.6</text>
<text transform="translate(105.99,304.70) scale(0.9945,1)" font-size="25.33">0</text>
<text transform="translate(75.76,217.60) scale(1.0477,1)" font-size="25.33">500</text>
<text transform="translate(60.36,130.50) scale(1.0594,1)" font-size="25.33">1000</text>
</g>
<clipPath id="c1"><rect x="136.5" y="396.4" width="1162.50" height="292.20"/></clipPath>
<g clip-path="url(#c1)" fill="none" stroke-width="3.65" stroke-linejoin="round" stroke-linecap="square">
<path d="M189.34,655.70 L190.85,654.78 L192.36,653.85 L193.87,652.92 L195.38,651.99 L196.89,651.06 L198.40,650.12 L199.91,649.17 L201.42,648.23 L202.93,647.28 L204.44,646.32 L205.95,645.37 L207.46,644.41 L208.97,643.45 L210.48,642.48 L211.99,641.51 L213.50,640.54 L215.01,639.57 L216.52,638.59 L218.03,637.61 L219.54,636.63 L221.05,635.64 L222.56,634.66 L224.07,633.67 L225.58,632.67 L227.09,631.68 L228.60,630.68 L230.11,629.68 L231.62,628.68 L233.13,627.68 L234.64,626.67 L236.15,625.66 L237.66,624.65 L239.17,623.64 L240.68,622.62 L242.19,621.61 L243.70,620.59 L245.21,619.57 L246.72,618.55 L248.23,617.52 L249.74,616.50 L251.25,615.47 L252.76,614.44 L254.27,613.41 L255.78,612.38 L257.29,611.35 L258.80,610.32 L260.31,609.28 L261.82,608.24 L263.33,607.21 L264.84,606.17 L266.35,605.13 L267.86,604.09 L269.37,603.04 L270.88,602.00 L272.39,600.96 L273.90,599.91 L275.41,598.87 L276.92,597.82 L278.43,596.78 L279.94,595.73 L281.45,594.68 L282.96,593.63 L284.47,592.58 L285.98,591.53 L287.49,590.49 L289.00,589.44 L290.51,588.39 L292.02,587.34 L293.53,586.28 L295.04,585.23 L296.55,584.18 L298.06,583.13 L299.57,582.08 L301.08,581.03 L302.59,579.98 L304.10,578.93 L305.61,577.88 L307.12,576.83 L308.63,575.79 L310.14,574.74 L311.65,573.69 L313.16,572.64 L314.67,571.60 L316.18,570.55 L317.69,569.50 L319.20,568.46 L320.71,567.42 L322.23,566.37 L323.74,565.33 L325.25,564.29 L326.76,563.25 L328.27,562.21 L329.78,561.17 L331.29,560.14 L332.80,559.10 L334.31,558.07 L335.82,557.04 L337.33,556.00 L338.84,554.97 L340.35,553.95 L341.86,552.92 L343.37,551.89 L344.88,550.87 L346.39,549.85 L347.90,548.83 L349.41,547.81 L350.92,546.79 L352.43,545.78 L353.94,544.77 L355.45,543.75 L356.96,542.75 L358.47,541.74 L359.98,540.74 L361.49,539.73 L363.00,538.73 L364.51,537.74 L366.02,536.74 L367.53,535.75 L369.04,534.76 L370.55,533.77 L372.06,532.79 L373.57,531.80 L375.08,530.82 L376.59,529.85 L378.10,528.87 L379.61,527.90 L381.12,526.93 L382.63,525.97 L384.14,525.01 L385.65,524.05 L387.16,523.09 L388.67,522.14 L390.18,521.19 L391.69,520.24 L393.20,519.30 L394.71,518.36 L396.22,517.42 L397.73,516.49 L399.24,515.56 L400.75,514.63 L402.26,513.71 L403.77,512.79 L405.28,511.88 L406.79,510.97 L408.30,510.06 L409.81,509.16 L411.32,508.26 L412.83,507.36 L414.34,506.47 L415.85,505.59 L417.36,504.70 L418.87,503.82 L420.38,502.95 L421.89,502.08 L423.40,501.21 L424.91,500.35 L426.42,499.50 L427.93,498.64 L429.44,497.80 L430.95,496.95 L432.46,496.12 L433.97,495.28 L435.48,494.45 L436.99,493.63 L438.50,492.81 L440.01,492.00 L441.52,491.19 L443.03,490.38 L444.54,489.59 L446.05,488.79 L447.56,488.00 L449.07,487.22 L450.58,486.44 L452.09,485.67 L453.60,484.90 L455.11,485.15 L456.62,485.39 L458.13,485.63 L459.64,485.87 L461.15,486.10 L462.66,486.33 L464.17,486.55 L465.68,486.77 L467.19,486.97 L468.70,487.17 L470.21,487.35 L471.72,487.53 L473.23,487.69 L474.74,487.83 L476.25,487.97 L477.76,488.08 L479.27,488.18 L480.77,488.27 L482.28,488.35 L483.79,488.43 L485.30,488.51 L486.81,488.58 L488.32,488.66 L489.83,488.73 L491.34,488.79 L492.85,488.86 L494.36,488.92 L495.87,488.98 L497.38,489.04 L498.89,489.10 L500.40,489.15 L501.91,489.20 L503.42,489.25 L504.93,489.29 L506.44,489.34 L507.95,489.38 L509.46,489.41 L510.97,489.45 L512.48,489.48 L513.99,489.51 L515.50,489.54 L517.01,489.56 L518.52,489.58 L520.03,489.60 L521.54,489.62 L523.05,489.63 L524.56,489.65 L526.07,489.67 L527.58,489.68 L529.09,489.70 L530.60,489.71 L532.11,489.73 L533.61,489.74 L535.12,489.75 L536.63,489.77 L538.14,489.78 L539.65,489.79 L541.16,489.81 L542.67,489.82 L544.18,489.83 L545.69,489.84 L547.20,489.85 L548.71,489.86 L550.22,489.87 L551.73,489.88 L553.24,489.90 L554.75,489.90 L556.26,489.91 L557.77,489.92 L559.28,489.93 L560.79,489.94 L562.30,489.95 L563.81,489.96 L565.32,489.97 L566.83,489.97 L568.34,489.98 L569.85,489.99 L571.36,490.00 L572.87,490.00 L574.38,490.01 L575.89,490.02 L577.40,490.02 L578.91,490.03 L580.42,490.04 L581.93,490.04 L583.44,490.05 L584.95,490.05 L586.45,490.06 L587.96,490.06 L589.47,490.07 L590.98,490.07 L592.49,490.08 L594.00,490.08 L595.51,490.09 L597.02,490.09 L598.53,490.10 L600.04,490.10 L601.55,490.10 L603.06,490.11 L604.57,490.11 L606.08,490.12 L607.59,490.12 L609.10,490.12 L610.61,490.13 L612.12,490.13 L613.63,490.14 L615.14,490.14 L616.65,490.14 L618.16,490.15 L619.67,490.15 L621.18,490.16 L622.69,490.16 L624.20,490.16 L625.71,490.17 L627.22,490.17 L628.73,490.18 L630.24,490.18 L631.75,490.18 L633.26,490.19 L634.77,490.19 L636.28,490.19 L637.79,490.20 L639.29,490.20 L640.80,490.20 L642.31,490.21 L643.82,490.21 L645.33,490.21 L646.84,490.22 L648.35,490.22 L649.86,490.22 L651.37,490.23 L652.88,490.23 L654.39,490.23 L655.90,490.24 L657.41,490.24 L658.92,490.24 L660.43,490.24 L661.94,490.25 L663.45,490.25 L664.96,490.25 L666.47,490.25 L667.98,490.26 L669.49,490.26 L671.00,490.26 L672.51,490.26 L674.02,490.27 L675.53,490.27 L677.04,490.27 L678.55,490.27 L680.06,490.27 L681.57,490.28 L683.08,490.28 L684.59,490.28 L686.10,490.28 L687.61,490.28 L689.12,490.28 L690.63,490.29 L692.13,490.29 L693.64,490.29 L695.15,490.29 L696.66,490.29 L698.17,490.29 L699.68,490.29 L701.19,490.29 L702.70,490.30 L704.21,490.30 L705.72,490.30 L707.23,490.30 L708.74,490.30 L710.25,490.30 L711.76,490.30 L713.27,490.30 L714.78,490.30 L716.29,490.30 L717.80,490.30 L719.31,491.21 L720.82,492.12 L722.33,493.03 L723.84,493.94 L725.35,494.85 L726.86,495.77 L728.37,496.69 L729.88,497.61 L731.39,498.54 L732.90,499.46 L734.41,500.39 L735.92,501.32 L737.43,502.25 L738.94,503.18 L740.45,504.12 L741.96,505.06 L743.47,506.00 L744.97,506.94 L746.48,507.88 L747.99,508.83 L749.50,509.77 L751.01,510.72 L752.52,511.67 L754.03,512.62 L755.54,513.58 L757.05,514.53 L758.56,515.49 L760.07,516.45 L761.58,517.41 L763.09,518.37 L764.60,519.33 L766.11,520.30 L767.62,521.26 L769.13,522.23 L770.64,523.20 L772.15,524.17 L773.66,525.14 L775.17,526.11 L776.68,527.08 L778.19,528.06 L779.70,529.03 L781.21,530.01 L782.72,530.99 L784.23,531.97 L785.74,532.95 L787.25,533.93 L788.76,534.91 L790.27,535.89 L791.78,536.88 L793.29,537.86 L794.80,538.85 L796.31,539.83 L797.81,540.82 L799.32,541.81 L800.83,542.80 L802.34,543.79 L803.85,544.78 L805.36,545.77 L806.87,546.76 L808.38,547.75 L809.89,548.75 L811.40,549.74 L812.91,550.74 L814.42,551.73 L815.93,552.72 L817.44,553.72 L818.95,554.72 L820.46,555.71 L821.97,556.71 L823.48,557.70 L824.99,558.70 L826.50,559.70 L828.01,560.70 L829.52,561.69 L831.03,562.69 L832.54,563.69 L834.05,564.69 L835.56,565.69 L837.07,566.68 L838.58,567.68 L840.09,568.68 L841.60,569.68 L843.11,570.68 L844.62,571.68 L846.13,572.67 L847.64,573.67 L849.15,574.67 L850.65,575.67 L852.16,576.66 L853.67,577.66 L855.18,578.66 L856.69,579.65 L858.20,580.65 L859.71,581.64 L861.22,582.64 L862.73,583.63 L864.24,584.63 L865.75,585.62 L867.26,586.61 L868.77,587.60 L870.28,588.60 L871.79,589.59 L873.30,590.58 L874.81,591.57 L876.32,592.56 L877.83,593.54 L879.34,594.53 L880.85,595.52 L882.36,596.50 L883.87,597.49 L885.38,598.47 L886.89,599.46 L888.40,600.44 L889.91,601.42 L891.42,602.40 L892.93,603.38 L894.44,604.35 L895.95,605.33 L897.46,606.31 L898.97,607.28 L900.48,608.25 L901.99,609.23 L903.49,610.20 L905.00,611.17 L906.51,612.14 L908.02,613.10 L909.53,614.07 L911.04,615.03 L912.55,615.99 L914.06,616.95 L915.57,617.91 L917.08,618.87 L918.59,619.83 L920.10,620.78 L921.61,621.74 L923.12,622.69 L924.63,623.64 L926.14,624.59 L927.65,625.53 L929.16,626.48 L930.67,627.42 L932.18,628.36 L933.69,629.30 L935.20,630.24 L936.71,631.17 L938.22,632.11 L939.73,633.04 L941.24,633.97 L942.75,634.90 L944.26,635.82 L945.77,636.74 L947.28,637.67 L948.79,638.59 L950.30,639.50 L951.81,640.42 L953.32,641.33 L954.83,642.24 L956.33,643.15 L957.84,644.05 L959.35,644.96 L960.86,645.86 L962.37,646.76 L963.88,647.65 L965.39,648.54 L966.90,649.44 L968.41,650.32 L969.92,651.21 L971.43,652.09 L972.94,652.97 L974.45,653.85 L975.96,654.73 L977.47,655.60 L978.98,656.47 L980.49,657.34 L982.00,658.20 L983.51,658.08 L985.02,657.97 L986.53,657.85 L988.04,657.74 L989.55,657.63 L991.06,657.53 L992.57,657.43 L994.08,657.34 L995.59,657.25 L997.10,657.17 L998.61,657.09 L1000.12,657.02 L1001.63,656.95 L1003.14,656.88 L1004.65,656.81 L1006.16,656.74 L1007.67,656.68 L1009.17,656.61 L1010.68,656.55 L1012.19,656.49 L1013.70,656.44 L1015.21,656.38 L1016.72,656.33 L1018.23,656.29 L1019.74,656.24 L1021.25,656.20 L1022.76,656.17 L1024.27,656.13 L1025.78,656.11 L1027.29,656.08 L1028.80,656.06 L1030.31,656.03 L1031.82,656.01 L1033.33,655.99 L1034.84,655.97 L1036.35,655.95 L1037.86,655.94 L1039.37,655.92 L1040.88,655.90 L1042.39,655.89 L1043.90,655.88 L1045.41,655.86 L1046.92,655.85 L1048.43,655.84 L1049.94,655.83 L1051.45,655.82 L1052.96,655.80 L1054.47,655.80 L1055.98,655.79 L1057.49,655.78 L1059.00,655.77 L1060.51,655.76 L1062.01,655.75 L1063.52,655.74 L1065.03,655.73 L1066.54,655.72 L1068.05,655.71 L1069.56,655.70 L1071.07,655.69 L1072.58,655.68 L1074.09,655.68 L1075.60,655.67 L1077.11,655.66 L1078.62,655.65 L1080.13,655.65 L1081.64,655.64 L1083.15,655.63 L1084.66,655.63 L1086.17,655.62 L1087.68,655.62 L1089.19,655.61 L1090.70,655.61 L1092.21,655.61 L1093.72,655.61 L1095.23,655.60 L1096.74,655.60 L1098.25,655.60 L1099.76,655.60 L1101.27,655.60 L1102.78,655.60 L1104.29,655.60 L1105.80,655.60 L1107.31,655.60 L1108.82,655.60 L1110.33,655.60 L1111.84,655.60 L1113.35,655.60 L1114.85,655.60 L1116.36,655.60 L1117.87,655.60 L1119.38,655.60 L1120.89,655.60 L1122.40,655.60 L1123.91,655.60 L1125.42,655.60 L1126.93,655.60 L1128.44,655.60 L1129.95,655.60 L1131.46,655.60 L1132.97,655.60 L1134.48,655.60 L1135.99,655.60 L1137.50,655.60 L1139.01,655.60 L1140.52,655.60 L1142.03,655.60 L1143.54,655.60 L1145.05,655.60 L1146.56,655.60 L1148.07,655.60 L1149.58,655.60 L1151.09,655.60 L1152.60,655.60 L1154.11,655.61 L1155.62,655.61 L1157.13,655.61 L1158.64,655.61 L1160.15,655.61 L1161.66,655.61 L1163.17,655.61 L1164.68,655.61 L1166.19,655.61 L1167.69,655.61 L1169.20,655.61 L1170.71,655.61 L1172.22,655.61 L1173.73,655.61 L1175.24,655.61 L1176.75,655.61 L1178.26,655.62 L1179.77,655.62 L1181.28,655.62 L1182.79,655.62 L1184.30,655.62 L1185.81,655.62 L1187.32,655.62 L1188.83,655.62 L1190.34,655.62 L1191.85,655.62 L1193.36,655.63 L1194.87,655.63 L1196.38,655.63 L1197.89,655.63 L1199.40,655.63 L1200.91,655.63 L1202.42,655.63 L1203.93,655.64 L1205.44,655.64 L1206.95,655.64 L1208.46,655.64 L1209.97,655.64 L1211.48,655.64 L1212.99,655.65 L1214.50,655.65 L1216.01,655.65 L1217.52,655.65 L1219.03,655.65 L1220.53,655.66 L1222.04,655.66 L1223.55,655.66 L1225.06,655.66 L1226.57,655.66 L1228.08,655.67 L1229.59,655.67 L1231.10,655.67 L1232.61,655.67 L1234.12,655.68 L1235.63,655.68 L1237.14,655.68 L1238.65,655.69 L1240.16,655.69 L1241.67,655.69 L1243.18,655.69 L1244.69,655.70 L1246.20,655.70" stroke="#005eff"/>
<path d="M189.34,655.70 L190.89,655.29 L192.44,654.86 L193.98,654.41 L195.53,653.94 L197.08,653.46 L198.63,652.97 L200.18,652.46 L201.73,651.93 L203.27,651.38 L204.82,650.83 L206.37,650.26 L207.92,649.67 L209.47,649.07 L211.02,648.46 L212.56,647.83 L214.11,647.19 L215.66,646.54 L217.21,645.88 L218.76,645.20 L220.31,644.52 L221.85,643.82 L223.40,643.12 L224.95,642.40 L226.50,641.67 L228.05,640.93 L229.60,640.19 L231.14,639.43 L232.69,638.67 L234.24,637.90 L235.79,637.12 L237.34,636.33 L238.89,635.54 L240.43,634.73 L241.98,633.93 L243.53,633.11 L245.08,632.29 L246.63,631.47 L248.18,630.64 L249.72,629.80 L251.27,628.96 L252.82,628.12 L254.37,627.27 L255.92,626.42 L257.47,625.57 L259.01,624.71 L260.56,623.85 L262.11,622.99 L263.66,622.13 L265.21,621.26 L266.76,620.40 L268.30,619.53 L269.85,618.67 L271.40,617.80 L272.92,616.75 L274.44,615.69 L275.95,614.62 L277.47,613.56 L278.99,612.49 L280.51,611.41 L282.03,610.34 L283.55,609.25 L285.06,608.17 L286.58,607.08 L288.10,605.99 L289.62,604.90 L291.14,603.81 L292.66,602.71 L294.17,601.61 L295.69,600.51 L297.21,599.41 L298.73,598.30 L300.25,597.19 L301.77,596.09 L303.28,594.98 L304.80,593.87 L306.32,592.75 L307.84,591.64 L309.36,590.53 L310.88,589.42 L312.39,588.30 L313.91,587.19 L315.43,586.07 L316.95,584.96 L318.47,583.85 L319.99,582.73 L321.50,581.62 L323.02,580.51 L324.54,579.40 L326.06,578.29 L327.58,577.18 L329.10,576.08 L330.62,574.97 L332.13,573.87 L333.65,572.77 L335.17,571.67 L336.69,570.57 L338.21,569.47 L339.73,568.38 L341.24,567.29 L342.76,566.21 L344.28,565.12 L345.80,564.04 L347.32,562.96 L348.83,561.89 L350.35,560.82 L351.87,559.75 L353.39,558.69 L354.91,557.63 L356.43,556.58 L357.94,555.53 L359.46,554.49 L360.98,553.44 L362.50,552.41 L364.02,551.38 L365.54,550.35 L367.06,549.33 L368.57,548.31 L370.09,547.30 L371.61,546.28 L373.13,545.28 L374.65,544.27 L376.17,543.27 L377.68,542.27 L379.20,541.28 L380.72,540.28 L382.24,539.29 L383.76,538.30 L385.27,537.31 L386.79,536.33 L388.31,535.35 L389.83,534.36 L391.35,533.38 L392.87,532.40 L394.38,531.42 L395.90,530.44 L397.42,529.47 L398.94,528.49 L400.46,527.51 L401.98,526.53 L403.50,525.56 L405.01,524.58 L406.53,523.60 L408.05,522.62 L409.57,521.64 L411.09,520.66 L412.61,519.67 L414.12,518.69 L415.64,517.70 L417.16,516.71 L418.68,515.72 L420.20,514.73 L421.72,513.74 L423.23,512.74 L424.75,511.74 L426.27,510.74 L427.79,509.73 L429.31,508.72 L430.83,507.70 L432.34,506.67 L433.86,505.64 L435.38,504.60 L436.90,503.56 L438.42,502.50 L439.94,501.43 L441.45,500.36 L442.97,499.27 L444.49,498.17 L446.01,497.06 L447.53,495.94 L449.05,494.80 L450.56,493.65 L452.08,492.48 L453.60,491.30 L455.11,490.99 L456.62,490.68 L458.13,490.39 L459.64,490.14 L461.15,489.96 L462.66,489.86 L464.17,489.78 L465.68,489.71 L467.19,489.64 L468.70,489.57 L470.21,489.51 L471.72,489.45 L473.23,489.40 L474.74,489.35 L476.25,489.31 L477.76,489.27 L479.27,489.23 L480.77,489.20 L482.28,489.17 L483.79,489.15 L485.30,489.13 L486.81,489.12 L488.32,489.11 L489.83,489.10 L491.34,489.10 L492.85,489.09 L494.36,489.09 L495.87,489.09 L497.38,489.08 L498.89,489.08 L500.40,489.08 L501.91,489.08 L503.42,489.07 L504.93,489.07 L506.44,489.07 L507.95,489.07 L509.46,489.06 L510.97,489.06 L512.48,489.06 L513.99,489.06 L515.50,489.05 L517.01,489.05 L518.52,489.05 L520.03,489.05 L521.54,489.05 L523.05,489.04 L524.56,489.04 L526.07,489.04 L527.58,489.04 L529.09,489.04 L530.60,489.03 L532.11,489.03 L533.61,489.03 L535.12,489.03 L536.63,489.03 L538.14,489.03 L539.65,489.02 L541.16,489.02 L542.67,489.02 L544.18,489.02 L545.69,489.02 L547.20,489.02 L548.71,489.02 L550.22,489.02 L551.73,489.02 L553.24,489.01 L554.75,489.01 L556.26,489.01 L557.77,489.01 L559.28,489.01 L560.79,489.01 L562.30,489.01 L563.81,489.01 L565.32,489.01 L566.83,489.01 L568.34,489.01 L569.85,489.01 L571.36,489.00 L572.87,489.00 L574.38,489.00 L575.89,489.00 L577.40,489.00 L578.91,489.00 L580.42,489.00 L581.93,489.00 L583.44,489.00 L584.95,489.00 L586.45,489.00 L587.96,489.00 L589.47,489.00 L590.98,489.00 L592.49,489.00 L594.00,489.00 L595.51,489.00 L597.02,489.00 L598.53,489.00 L600.04,489.00 L601.55,489.00 L603.06,489.00 L604.57,489.00 L606.08,489.00 L607.59,489.00 L609.10,489.00 L610.61,489.00 L612.12,489.00 L613.63,489.00 L615.14,489.00 L616.65,489.00 L618.16,489.00 L619.67,489.00 L621.18,489.00 L622.69,489.00 L624.20,489.00 L625.71,489.00 L627.22,489.01 L628.73,489.01 L630.24,489.01 L631.75,489.01 L633.26,489.01 L634.77,489.01 L636.28,489.01 L637.79,489.01 L639.29,489.01 L640.80,489.01 L642.31,489.01 L643.82,489.01 L645.33,489.01 L646.84,489.02 L648.35,489.02 L649.86,489.02 L651.37,489.02 L652.88,489.02 L654.39,489.02 L655.90,489.02 L657.41,489.02 L658.92,489.02 L660.43,489.03 L661.94,489.03 L663.45,489.03 L664.96,489.03 L666.47,489.03 L667.98,489.03 L669.49,489.03 L671.00,489.04 L672.51,489.04 L674.02,489.04 L675.53,489.04 L677.04,489.04 L678.55,489.04 L680.06,489.05 L681.57,489.05 L683.08,489.05 L684.59,489.05 L686.10,489.05 L687.61,489.05 L689.12,489.06 L690.63,489.06 L692.13,489.06 L693.64,489.06 L695.15,489.06 L696.66,489.07 L698.17,489.07 L699.68,489.07 L701.19,489.07 L702.70,489.08 L704.21,489.08 L705.72,489.08 L707.23,489.08 L708.74,489.08 L710.25,489.09 L711.76,489.09 L713.27,489.09 L714.78,489.09 L716.29,489.10 L717.80,489.10 L719.31,489.82 L720.82,490.54 L722.33,491.27 L723.84,492.00 L725.35,492.73 L726.86,493.47 L728.37,494.21 L729.88,494.95 L731.39,495.70 L732.90,496.45 L734.41,497.20 L735.92,497.95 L737.43,498.71 L738.94,499.47 L740.45,500.24 L741.96,501.01 L743.47,501.78 L744.98,502.55 L746.49,503.33 L748.00,504.11 L749.51,504.89 L751.02,505.67 L752.53,506.46 L754.04,507.25 L755.55,508.04 L757.06,508.84 L758.57,509.64 L760.08,510.44 L761.59,511.25 L763.10,512.05 L764.61,512.86 L766.12,513.68 L767.63,514.49 L769.14,515.31 L770.65,516.13 L772.16,516.95 L773.67,517.78 L775.18,518.61 L776.69,519.44 L778.20,520.27 L779.71,521.10 L781.22,521.94 L782.73,522.78 L784.24,523.62 L785.75,524.47 L787.26,525.32 L788.77,526.17 L790.28,527.02 L791.79,527.87 L793.30,528.73 L794.81,529.59 L796.32,530.45 L797.83,531.31 L799.34,532.17 L800.85,533.04 L802.36,533.91 L803.87,534.78 L805.38,535.65 L806.89,536.53 L808.40,537.40 L809.91,538.28 L811.42,539.16 L812.93,540.05 L814.44,540.93 L815.95,541.82 L817.46,542.71 L818.97,543.60 L820.48,544.49 L821.99,545.38 L823.50,546.28 L825.01,547.17 L826.52,548.07 L828.03,548.97 L829.54,549.87 L831.06,550.78 L832.57,551.68 L834.08,552.59 L835.59,553.50 L837.10,554.41 L838.61,555.32 L840.12,556.23 L841.63,557.15 L843.14,558.06 L844.65,558.98 L846.16,559.90 L847.67,560.82 L849.18,561.74 L850.69,562.66 L852.20,563.59 L853.71,564.51 L855.22,565.44 L856.73,566.37 L858.24,567.30 L859.75,568.23 L861.26,569.16 L862.77,570.09 L864.28,571.02 L865.79,571.96 L867.30,572.89 L868.81,573.83 L870.32,574.77 L871.83,575.71 L873.34,576.65 L874.85,577.59 L876.36,578.53 L877.87,579.47 L879.38,580.41 L880.89,581.36 L882.40,582.30 L883.91,583.25 L885.42,584.19 L886.93,585.14 L888.44,586.09 L889.95,587.04 L891.46,587.99 L892.97,588.94 L894.48,589.89 L895.99,590.84 L897.50,591.79 L899.01,592.74 L900.52,593.70 L902.03,594.65 L903.54,595.60 L905.05,596.56 L906.56,597.51 L908.07,598.47 L909.58,599.42 L911.09,600.38 L912.60,601.34 L914.11,602.29 L915.62,603.25 L917.13,604.21 L918.64,605.16 L920.15,606.12 L921.66,607.08 L923.17,608.04 L924.68,609.00 L926.19,609.96 L927.70,610.91 L929.21,611.87 L930.72,612.83 L932.23,613.79 L933.74,614.75 L935.25,615.71 L936.76,616.67 L938.27,617.62 L939.78,618.58 L941.29,619.54 L942.80,620.50 L982.00,641.00 L983.51,641.42 L985.02,641.82 L986.53,642.22 L988.04,642.61 L989.55,642.98 L991.06,643.34 L992.57,643.69 L994.08,644.03 L995.59,644.35 L997.10,644.65 L998.61,644.94 L1000.12,645.21 L1001.63,645.48 L1003.14,645.74 L1004.65,645.99 L1006.16,646.23 L1007.67,646.46 L1009.17,646.68 L1010.68,646.90 L1012.19,647.10 L1013.70,647.30 L1015.21,647.49 L1016.72,647.68 L1018.23,647.86 L1019.74,648.03 L1021.25,648.19 L1022.76,648.35 L1024.27,648.50 L1025.78,648.65 L1027.29,648.79 L1028.80,648.93 L1030.31,649.07 L1031.82,649.20 L1033.33,649.33 L1034.84,649.46 L1036.35,649.59 L1037.86,649.71 L1039.37,649.84 L1040.88,649.96 L1042.39,650.07 L1043.90,650.19 L1045.41,650.30 L1046.92,650.42 L1048.43,650.53 L1049.94,650.63 L1051.45,650.74 L1052.96,650.85 L1054.47,650.95 L1055.98,651.06 L1057.49,651.16 L1059.00,651.27 L1060.51,651.37 L1062.01,651.47 L1063.52,651.57 L1065.03,651.67 L1066.54,651.77 L1068.05,651.86 L1069.56,651.95 L1071.07,652.04 L1072.58,652.12 L1074.09,652.20 L1075.60,652.29 L1077.11,652.37 L1078.62,652.45 L1080.13,652.53 L1081.64,652.61 L1083.15,652.69 L1084.66,652.76 L1086.17,652.84 L1087.68,652.91 L1089.19,652.98 L1090.70,653.05 L1092.21,653.11 L1093.72,653.18 L1095.23,653.24 L1096.74,653.29 L1098.25,653.35 L1099.76,653.40 L1101.27,653.45 L1102.78,653.49 L1104.29,653.54 L1105.80,653.58 L1107.31,653.63 L1108.82,653.67 L1110.33,653.71 L1111.84,653.75 L1113.35,653.79 L1114.85,653.83 L1116.36,653.87 L1117.87,653.90 L1119.38,653.94 L1120.89,653.97 L1122.40,654.01 L1123.91,654.04 L1125.42,654.07 L1126.93,654.10 L1128.44,654.14 L1129.95,654.17 L1131.46,654.20 L1132.97,654.22 L1134.48,654.25 L1135.99,654.28 L1137.50,654.31 L1139.01,654.34 L1140.52,654.36 L1142.03,654.39 L1143.54,654.42 L1145.05,654.44 L1146.56,654.47 L1148.07,654.49 L1149.58,654.52 L1151.09,654.54 L1152.60,654.57 L1154.11,654.59 L1155.62,654.61 L1157.13,654.64 L1158.64,654.66 L1160.15,654.68 L1161.66,654.70 L1163.17,654.72 L1164.68,654.75 L1166.19,654.77 L1167.69,654.79 L1169.20,654.81 L1170.71,654.83 L1172.22,654.85 L1173.73,654.87 L1175.24,654.89 L1176.75,654.91 L1178.26,654.93 L1179.77,654.95 L1181.28,654.97 L1182.79,654.98 L1184.30,655.00 L1185.81,655.02 L1187.32,655.04 L1188.83,655.06 L1190.34,655.07 L1191.85,655.09 L1193.36,655.11 L1194.87,655.12 L1196.38,655.14 L1197.89,655.16 L1199.40,655.17 L1200.91,655.19 L1202.42,655.21 L1203.93,655.22 L1205.44,655.24 L1206.95,655.26 L1208.46,655.27 L1209.97,655.29 L1211.48,655.30 L1212.99,655.32 L1214.50,655.33 L1216.01,655.35 L1217.52,655.36 L1219.03,655.38 L1220.53,655.39 L1222.04,655.40 L1223.55,655.42 L1225.06,655.43 L1226.57,655.44 L1228.08,655.46 L1229.59,655.47 L1231.10,655.48 L1232.61,655.50 L1234.12,655.51 L1235.63,655.52 L1237.14,655.53 L1238.65,655.54 L1240.16,655.56 L1241.67,655.57 L1243.18,655.58 L1244.69,655.59 L1246.20,655.60" stroke="#ffd500"/>
<path d="M189.34,655.70 L190.85,654.27 L192.36,652.85 L193.87,651.43 L195.38,650.02 L196.89,648.62 L198.40,647.22 L199.91,645.83 L201.42,644.45 L202.93,643.07 L204.44,641.70 L205.95,640.33 L207.46,638.97 L208.97,637.61 L210.48,636.26 L211.99,634.92 L213.50,633.58 L215.01,632.24 L216.52,630.91 L218.03,629.59 L219.54,628.27 L221.05,626.95 L222.56,625.64 L224.07,624.33 L225.58,623.03 L227.09,621.73 L228.60,620.44 L230.11,619.15 L231.62,617.86 L233.13,616.58 L234.64,615.30 L236.15,614.02 L237.66,612.75 L239.17,611.48 L240.68,610.22 L242.19,608.95 L243.70,607.69 L245.21,606.44 L246.72,605.18 L248.23,603.93 L249.74,602.68 L251.25,601.44 L252.76,600.19 L254.27,598.95 L255.78,597.71 L257.29,596.47 L258.80,595.24 L260.31,594.00 L261.82,592.77 L263.33,591.54 L264.84,590.31 L266.35,589.08 L267.86,587.85 L269.37,586.63 L270.88,585.40 L272.39,584.18 L273.90,582.95 L275.41,581.73 L276.92,580.51 L278.43,579.29 L279.94,578.07 L281.45,576.84 L282.96,575.62 L284.47,574.40 L285.98,573.18 L287.49,571.96 L289.00,570.74 L290.51,569.51 L292.02,568.29 L293.53,567.07 L295.04,565.84 L296.55,564.62 L298.06,563.39 L299.57,562.16 L301.08,560.93 L302.59,559.70 L304.10,558.47 L305.61,557.24 L307.12,556.00 L308.63,554.77 L310.14,553.53 L311.65,552.29 L313.16,551.05 L314.67,549.80 L316.18,548.56 L317.69,547.31 L319.20,546.05 L320.71,544.80 L322.23,543.54 L323.74,542.28 L325.25,541.02 L326.76,539.75 L328.27,538.48 L329.78,537.21 L331.29,535.93 L332.80,534.65 L334.31,533.37 L335.82,532.08 L337.33,530.79 L338.84,529.49 L340.35,528.20 L341.86,526.89 L343.37,525.58 L344.88,524.27 L346.39,522.95 L347.90,521.63 L349.41,520.31 L350.92,518.98 L352.43,517.64 L353.94,516.30 L355.45,514.95 L356.96,513.60 L358.47,512.24 L359.98,510.88 L361.49,509.51 L363.00,508.14 L364.51,506.76 L366.02,505.37 L367.53,503.98 L369.04,502.58 L370.55,501.18 L372.06,499.77 L373.57,498.35 L375.08,496.93 L376.59,495.49 L378.10,494.06 L379.61,492.61 L381.12,491.16 L382.63,489.70 L384.14,488.24 L385.65,486.76 L387.16,485.28 L388.67,483.79 L390.18,482.30 L391.69,480.79 L393.20,479.28 L394.71,477.76 L396.22,476.23 L397.73,474.69 L399.24,473.15 L400.75,471.60 L402.26,470.03 L403.77,468.46 L405.28,466.88 L406.79,465.29 L408.30,463.70 L409.81,462.09 L411.32,460.47 L412.83,458.85 L414.34,457.21 L415.85,455.57 L417.36,453.91 L418.87,452.25 L420.38,450.57 L421.89,448.89 L423.40,447.19 L424.91,445.49 L426.42,443.77 L427.93,442.05 L429.44,440.31 L430.95,438.57 L432.46,436.81 L433.97,435.04 L435.48,433.26 L436.99,431.47 L438.50,429.67 L440.01,427.85 L441.52,426.03 L443.03,424.19 L444.54,422.34 L446.05,420.48 L447.56,418.61 L449.07,416.73 L450.58,414.83 L452.09,412.92 L453.60,411.00 L455.11,410.96 L456.62,410.92 L458.13,410.88 L459.64,410.84 L461.15,410.80 L462.66,410.76 L464.17,410.72 L465.68,410.69 L467.19,410.66 L468.70,410.62 L470.21,410.60 L471.72,410.57 L473.23,410.54 L474.74,410.51 L476.25,410.49 L477.76,410.46 L479.27,410.43 L480.77,410.41 L482.28,410.38 L483.79,410.35 L485.30,410.33 L486.81,410.30 L488.32,410.28 L489.83,410.26 L491.34,410.23 L492.85,410.21 L494.36,410.19 L495.87,410.17 L497.38,410.15 L498.89,410.13 L500.40,410.11 L501.91,410.10 L503.42,410.08 L504.93,410.06 L506.44,410.05 L507.95,410.04 L509.46,410.03 L510.97,410.02 L512.48,410.01 L513.99,410.00 L515.50,409.99 L517.01,409.99 L518.52,409.98 L520.03,409.98 L521.54,409.97 L523.05,409.96 L524.56,409.96 L526.07,409.95 L527.58,409.95 L529.09,409.94 L530.60,409.93 L532.11,409.93 L533.61,409.92 L535.12,409.92 L536.63,409.91 L538.14,409.91 L539.65,409.90 L541.16,409.90 L542.67,409.89 L544.18,409.89 L545.69,409.88 L547.20,409.88 L548.71,409.88 L550.22,409.87 L551.73,409.87 L553.24,409.86 L554.75,409.86 L556.26,409.86 L557.77,409.85 L559.28,409.85 L560.79,409.85 L562.30,409.84 L563.81,409.84 L565.32,409.84 L566.83,409.83 L568.34,409.83 L569.85,409.83 L571.36,409.82 L572.87,409.82 L574.38,409.82 L575.89,409.82 L577.40,409.82 L578.91,409.81 L580.42,409.81 L581.93,409.81 L583.44,409.81 L584.95,409.81 L586.45,409.81 L587.96,409.80 L589.47,409.80 L590.98,409.80 L592.49,409.80 L594.00,409.80 L595.51,409.80 L597.02,409.80 L598.53,409.80 L600.04,409.80 L601.55,409.80 L603.06,409.80 L604.57,409.80 L606.08,409.80 L607.59,409.80 L609.10,409.80 L610.61,409.80 L612.12,409.80 L613.63,409.80 L615.14,409.80 L616.65,409.80 L618.16,409.80 L619.67,409.80 L621.18,409.80 L622.69,409.80 L624.20,409.80 L625.71,409.80 L627.22,409.80 L628.73,409.80 L630.24,409.80 L631.75,409.80 L633.26,409.80 L634.77,409.80 L636.28,409.80 L637.79,409.80 L639.29,409.80 L640.80,409.80 L642.31,409.80 L643.82,409.81 L645.33,409.81 L646.84,409.81 L648.35,409.81 L649.86,409.81 L651.37,409.81 L652.88,409.81 L654.39,409.81 L655.90,409.81 L657.41,409.81 L658.92,409.81 L660.43,409.81 L661.94,409.81 L663.45,409.82 L664.96,409.82 L666.47,409.82 L667.98,409.82 L669.49,409.82 L671.00,409.82 L672.51,409.82 L674.02,409.82 L675.53,409.83 L677.04,409.83 L678.55,409.83 L680.06,409.83 L681.57,409.83 L683.08,409.84 L684.59,409.84 L686.10,409.84 L687.61,409.84 L689.12,409.84 L690.63,409.85 L692.13,409.85 L693.64,409.85 L695.15,409.85 L696.66,409.86 L698.17,409.86 L699.68,409.86 L701.19,409.86 L702.70,409.87 L704.21,409.87 L705.72,409.87 L707.23,409.88 L708.74,409.88 L710.25,409.88 L711.76,409.89 L713.27,409.89 L714.78,409.89 L716.29,409.90 L717.80,409.90 L719.32,411.42 L720.84,412.95 L722.35,414.51 L723.87,416.09 L725.39,417.69 L726.91,419.32 L728.42,420.95 L729.94,422.61 L731.46,424.29 L732.98,425.98 L734.50,427.69 L736.01,429.41 L737.53,431.15 L739.05,432.90 L740.57,434.67 L742.09,436.45 L743.60,438.24 L745.12,440.05 L746.64,441.86 L748.16,443.69 L749.67,445.53 L751.19,447.37 L752.71,449.23 L754.23,451.09 L755.75,452.96 L757.26,454.84 L758.78,456.72 L760.30,458.61 L761.82,460.50 L763.34,462.40 L764.85,464.30 L766.37,466.21 L767.89,468.11 L769.41,470.02 L770.92,471.93 L772.44,473.84 L773.96,475.75 L775.48,477.66 L777.00,479.57 L778.51,481.48 L780.03,483.38 L781.55,485.28 L783.07,487.18 L784.59,489.07 L786.10,490.96 L787.62,492.84 L789.14,494.72 L790.66,496.60 L792.17,498.47 L793.69,500.34 L795.21,502.21 L796.73,504.07 L798.25,505.93 L799.76,507.78 L801.28,509.63 L802.80,511.48 L804.32,513.32 L805.84,515.17 L807.35,517.00 L808.87,518.84 L810.39,520.67 L811.91,522.50 L813.42,524.33 L814.94,526.15 L816.46,527.97 L817.98,529.79 L819.50,531.61 L821.01,533.42 L822.53,535.23 L824.05,537.03 L825.57,538.84 L827.09,540.64 L828.60,542.43 L830.12,544.22 L831.64,546.01 L833.16,547.79 L834.67,549.57 L836.19,551.34 L837.71,553.11 L839.23,554.88 L840.75,556.63 L842.26,558.39 L843.78,560.13 L845.30,561.88 L846.82,563.61 L848.34,565.34 L849.85,567.07 L851.37,568.78 L852.89,570.49 L854.41,572.19 L855.92,573.89 L857.44,575.58 L858.96,577.25 L860.48,578.92 L862.00,580.58 L863.51,582.23 L865.03,583.87 L866.55,585.50 L868.07,587.12 L869.59,588.72 L871.10,590.32 L872.62,591.90 L874.14,593.47 L875.66,595.03 L877.17,596.58 L878.69,598.11 L880.21,599.63 L881.73,601.13 L883.25,602.62 L884.76,604.10 L886.28,605.56 L887.80,607.00 L889.34,608.09 L890.89,609.18 L892.43,610.27 L893.98,611.36 L895.52,612.45 L897.07,613.54 L898.61,614.63 L900.15,615.73 L901.70,616.82 L903.24,617.92 L904.79,619.01 L906.33,620.11 L907.88,621.21 L909.42,622.31 L910.96,623.41 L912.51,624.52 L914.05,625.62 L915.60,626.73 L917.14,627.84 L918.69,628.94 L920.23,630.05 L921.77,631.16 L923.32,632.27 L924.86,633.38 L926.41,634.49 L927.95,635.60 L929.50,636.72 L931.04,637.83 L932.58,638.94 L934.13,640.06 L935.67,641.17 L937.22,642.29 L938.76,643.41 L940.30,644.52 L941.85,645.64 L943.39,646.76 L944.94,647.88 L946.48,649.00 L948.03,650.12 L949.57,651.24 L951.11,652.36 L952.66,653.49 L954.20,654.61 L955.75,655.74 L957.29,656.86 L958.84,657.99 L960.38,659.12 L961.92,660.24 L963.47,661.37 L965.01,662.50 L966.56,663.64 L968.10,664.77 L969.65,665.90 L971.19,667.03 L972.73,668.17 L974.28,669.31 L975.82,670.44 L977.37,671.58 L978.91,672.72 L980.46,673.86 L982.00,675.00 L983.51,674.49 L985.02,674.00 L986.53,673.51 L988.04,673.04 L989.55,672.58 L991.06,672.14 L992.57,671.70 L994.08,671.29 L995.59,670.89 L997.10,670.51 L998.61,670.15 L1000.12,669.81 L1001.63,669.47 L1003.14,669.15 L1004.65,668.84 L1006.16,668.54 L1007.67,668.25 L1009.17,667.97 L1010.68,667.69 L1012.19,667.42 L1013.70,667.15 L1015.21,666.89 L1016.72,666.63 L1018.23,666.37 L1019.74,666.12 L1021.25,665.88 L1022.76,665.64 L1024.27,665.40 L1025.78,665.17 L1027.29,664.94 L1028.80,664.72 L1030.31,664.50 L1031.82,664.29 L1033.33,664.07 L1034.84,663.86 L1036.35,663.66 L1037.86,663.45 L1039.37,663.24 L1040.88,663.03 L1042.39,662.83 L1043.90,662.63 L1045.41,662.43 L1046.92,662.25 L1048.43,662.06 L1049.94,661.89 L1051.45,661.73 L1052.96,661.57 L1054.47,661.43 L1055.98,661.29 L1057.49,661.16 L1059.00,661.03 L1060.51,660.91 L1062.01,660.79 L1063.52,660.68 L1065.03,660.57 L1066.54,660.47 L1068.05,660.37 L1069.56,660.27 L1071.07,660.17 L1072.58,660.08 L1074.09,659.99 L1075.60,659.90 L1077.11,659.81 L1078.62,659.72 L1080.13,659.64 L1081.64,659.56 L1083.15,659.48 L1084.66,659.40 L1086.17,659.32 L1087.68,659.25 L1089.19,659.18 L1090.70,659.11 L1092.21,659.03 L1093.72,658.97 L1095.23,658.90 L1096.74,658.83 L1098.25,658.77 L1099.76,658.70 L1101.27,658.64 L1102.78,658.58 L1104.29,658.51 L1105.80,658.45 L1107.31,658.39 L1108.82,658.33 L1110.33,658.27 L1111.84,658.21 L1113.35,658.15 L1114.85,658.09 L1116.36,658.03 L1117.87,657.97 L1119.38,657.92 L1120.89,657.86 L1122.40,657.81 L1123.91,657.75 L1125.42,657.70 L1126.93,657.65 L1128.44,657.59 L1129.95,657.54 L1131.46,657.49 L1132.97,657.44 L1134.48,657.39 L1135.99,657.35 L1137.50,657.30 L1139.01,657.26 L1140.52,657.21 L1142.03,657.17 L1143.54,657.12 L1145.05,657.08 L1146.56,657.04 L1148.07,657.00 L1149.58,656.96 L1151.09,656.93 L1152.60,656.89 L1154.11,656.85 L1155.62,656.81 L1157.13,656.77 L1158.64,656.74 L1160.15,656.70 L1161.66,656.66 L1163.17,656.62 L1164.68,656.59 L1166.19,656.55 L1167.69,656.52 L1169.20,656.48 L1170.71,656.45 L1172.22,656.42 L1173.73,656.39 L1175.24,656.36 L1176.75,656.33 L1178.26,656.30 L1179.77,656.27 L1181.28,656.25 L1182.79,656.22 L1184.30,656.20 L1185.81,656.18 L1187.32,656.16 L1188.83,656.14 L1190.34,656.12 L1191.85,656.11 L1193.36,656.09 L1194.87,656.08 L1196.38,656.07 L1197.89,656.05 L1199.40,656.04 L1200.91,656.03 L1202.42,656.02 L1203.93,656.00 L1205.44,655.99 L1206.95,655.98 L1208.46,655.97 L1209.97,655.96 L1211.48,655.94 L1212.99,655.93 L1214.50,655.92 L1216.01,655.91 L1217.52,655.90 L1219.03,655.89 L1220.53,655.88 L1222.04,655.87 L1223.55,655.87 L1225.06,655.86 L1226.57,655.85 L1228.08,655.84 L1229.59,655.84 L1231.10,655.83 L1232.61,655.83 L1234.12,655.82 L1235.63,655.82 L1237.14,655.81 L1238.65,655.81 L1240.16,655.81 L1241.67,655.80 L1243.18,655.80 L1244.69,655.80 L1246.20,655.80" stroke="#ff6200"/>
</g>
<rect x="136.5" y="396.4" width="1162.50" height="292.20" fill="none" stroke="#000" stroke-width="1.9" stroke-linejoin="miter"/>
<g stroke="#000" stroke-width="1.9">
<line x1="189.34" y1="688.6" x2="189.34" y2="696.90"/>
<line x1="324.86" y1="688.6" x2="324.86" y2="696.90"/>
<line x1="460.38" y1="688.6" x2="460.38" y2="696.90"/>
<line x1="595.90" y1="688.6" x2="595.90" y2="696.90"/>
<line x1="731.42" y1="688.6" x2="731.42" y2="696.90"/>
<line x1="866.94" y1="688.6" x2="866.94" y2="696.90"/>
<line x1="1002.46" y1="688.6" x2="1002.46" y2="696.90"/>
<line x1="1137.98" y1="688.6" x2="1137.98" y2="696.90"/>
<line x1="1273.50" y1="688.6" x2="1273.50" y2="696.90"/>
<line x1="136.5" y1="655.7" x2="128.20" y2="655.7"/>
<line x1="136.5" y1="578.7" x2="128.20" y2="578.7"/>
<line x1="136.5" y1="501.7" x2="128.20" y2="501.7"/>
<line x1="136.5" y1="424.7" x2="128.20" y2="424.7"/>
</g>
<g fill="#000" style="filter:grayscale(1)">
<text transform="translate(170.87,723.30) scale(1.0484,1)" font-size="25.33">0.0</text>
<text transform="translate(306.41,723.30) scale(1.0330,1)" font-size="25.33">0.2</text>
<text transform="translate(441.91,723.30) scale(1.0479,1)" font-size="25.33">0.4</text>
<text transform="translate(577.43,723.30) scale(1.0548,1)" font-size="25.33">0.6</text>
<text transform="translate(712.95,723.30) scale(1.0505,1)" font-size="25.33">0.8</text>
<text transform="translate(848.54,723.30) scale(1.0464,1)" font-size="25.33">1.0</text>
<text transform="translate(984.09,723.30) scale(1.0305,1)" font-size="25.33">1.2</text>
<text transform="translate(1119.58,723.30) scale(1.0459,1)" font-size="25.33">1.4</text>
<text transform="translate(1255.09,723.30) scale(1.0529,1)" font-size="25.33">1.6</text>
<text transform="translate(52.70,664.60) scale(1.0625,1)" font-size="25.33">0.000</text>
<text transform="translate(52.71,587.60) scale(1.0567,1)" font-size="25.33">0.001</text>
<text transform="translate(52.71,510.60) scale(1.0543,1)" font-size="25.33">0.002</text>
<text transform="translate(52.71,433.60) scale(1.0593,1)" font-size="25.33">0.003</text>
</g>
<clipPath id="c2"><rect x="136.5" y="754.2" width="1162.50" height="292.20"/></clipPath>
<g clip-path="url(#c2)" fill="none" stroke-width="3.65" stroke-linejoin="round" stroke-linecap="square">
<path d="M189.34,1033.00 L190.85,1033.02 L192.36,1033.04 L193.87,1033.06 L195.38,1033.08 L196.89,1033.10 L198.40,1033.12 L199.91,1033.13 L201.42,1033.15 L202.93,1033.16 L204.44,1033.17 L205.95,1033.19 L207.46,1033.19 L208.97,1033.20 L210.48,1033.21 L211.99,1033.21 L213.50,1033.21 L215.01,1033.21 L216.52,1033.21 L218.03,1033.20 L219.54,1033.19 L221.05,1033.18 L222.56,1033.17 L224.07,1033.15 L225.58,1033.13 L227.09,1033.10 L228.60,1033.08 L230.11,1033.04 L231.62,1033.01 L233.13,1032.97 L234.64,1032.93 L236.15,1032.88 L237.66,1032.83 L239.17,1032.77 L240.68,1032.71 L242.19,1032.64 L243.70,1032.57 L245.21,1032.49 L246.72,1032.41 L248.23,1032.33 L249.74,1032.24 L251.25,1032.14 L252.76,1032.04 L254.27,1031.93 L255.78,1031.81 L257.29,1031.69 L258.80,1031.56 L260.31,1031.43 L261.82,1031.29 L263.33,1031.15 L264.84,1030.99 L266.35,1030.83 L267.86,1030.67 L269.37,1030.49 L270.88,1030.31 L272.39,1030.12 L273.90,1029.93 L275.41,1029.72 L276.92,1029.51 L278.43,1029.29 L279.94,1029.06 L281.45,1028.83 L282.96,1028.58 L284.47,1028.33 L285.98,1028.07 L287.49,1027.80 L289.00,1027.52 L290.51,1027.23 L292.02,1026.94 L293.53,1026.63 L295.04,1026.31 L296.55,1025.97 L298.06,1025.63 L299.57,1025.27 L301.08,1024.89 L302.59,1024.50 L304.10,1024.10 L305.61,1023.68 L307.12,1023.23 L308.63,1022.78 L310.14,1022.30 L311.65,1021.80 L313.16,1021.28 L314.67,1020.74 L316.18,1020.17 L317.69,1019.59 L319.20,1018.98 L320.71,1018.34 L322.23,1017.68 L323.74,1016.99 L325.25,1016.28 L326.76,1015.53 L328.27,1014.76 L329.78,1013.96 L331.29,1013.13 L332.80,1012.27 L334.31,1011.38 L335.82,1010.45 L337.33,1009.49 L338.84,1008.50 L340.35,1007.47 L341.86,1006.41 L343.37,1005.31 L344.88,1004.17 L346.39,1003.00 L347.90,1001.78 L349.41,1000.53 L350.92,999.23 L352.43,997.89 L353.94,996.49 L355.45,995.05 L356.96,993.55 L358.47,992.00 L359.98,990.40 L361.49,988.73 L363.00,987.00 L364.51,985.21 L366.02,983.35 L367.53,981.42 L369.04,979.42 L370.55,977.35 L372.06,975.20 L373.57,972.98 L375.08,970.69 L376.59,968.33 L378.10,965.91 L379.61,963.41 L381.12,960.85 L382.63,958.22 L384.14,955.53 L385.65,952.78 L387.16,949.97 L388.67,947.09 L390.18,944.16 L391.69,941.18 L393.20,938.13 L394.71,935.04 L396.22,931.89 L397.73,928.68 L399.24,925.43 L400.75,922.12 L402.26,918.75 L403.77,915.33 L405.28,911.85 L406.79,908.32 L408.30,904.73 L409.81,901.08 L411.32,897.37 L412.83,893.61 L414.34,889.78 L415.85,885.90 L417.36,881.95 L418.87,877.95 L420.38,873.88 L421.89,869.75 L423.40,865.56 L424.91,861.30 L426.42,856.98 L427.93,852.59 L429.44,848.14 L430.95,843.63 L432.46,839.04 L433.97,834.40 L435.48,829.68 L436.99,824.89 L438.50,820.04 L440.01,815.12 L441.52,810.12 L443.03,805.06 L444.54,799.93 L446.05,794.72 L447.56,789.44 L449.07,784.09 L450.58,778.67 L452.09,773.17 L453.60,767.60 L455.11,770.40 L456.62,773.01 L458.13,775.39 L459.64,777.47 L461.15,779.25 L462.66,780.82 L464.17,782.23 L465.68,783.52 L467.19,784.70 L468.70,785.80 L470.21,786.84 L471.72,787.81 L473.23,788.71 L474.74,789.52 L476.25,790.26 L477.76,790.93 L479.27,791.56 L480.77,792.14 L482.28,792.65 L483.79,793.12 L485.30,793.55 L486.81,793.97 L488.32,794.37 L489.83,794.75 L491.34,795.11 L492.85,795.45 L494.36,795.76 L495.87,796.04 L497.38,796.29 L498.89,796.51 L500.40,796.71 L501.91,796.90 L503.42,797.07 L504.93,797.23 L506.44,797.38 L507.95,797.52 L509.46,797.65 L510.97,797.77 L512.48,797.89 L513.99,797.99 L515.50,798.09 L517.01,798.19 L518.52,798.28 L520.03,798.37 L521.54,798.45 L523.05,798.53 L524.56,798.60 L526.07,798.67 L527.58,798.73 L529.09,798.79 L530.60,798.84 L532.11,798.89 L533.61,798.93 L535.12,798.98 L536.63,799.02 L538.14,799.06 L539.65,799.10 L541.16,799.13 L542.67,799.16 L544.18,799.19 L545.69,799.21 L547.20,799.24 L548.71,799.26 L550.22,799.29 L551.73,799.31 L553.24,799.33 L554.75,799.35 L556.26,799.37 L557.77,799.40 L559.28,799.42 L560.79,799.44 L562.30,799.45 L563.81,799.47 L565.32,799.49 L566.83,799.51 L568.34,799.53 L569.85,799.54 L571.36,799.56 L572.87,799.58 L574.38,799.59 L575.89,799.61 L577.40,799.62 L578.91,799.64 L580.42,799.65 L581.93,799.66 L583.44,799.68 L584.95,799.69 L586.45,799.70 L587.96,799.71 L589.47,799.73 L590.98,799.74 L592.49,799.75 L594.00,799.76 L595.51,799.77 L597.02,799.78 L598.53,799.79 L600.04,799.80 L601.55,799.81 L603.06,799.82 L604.57,799.83 L606.08,799.84 L607.59,799.85 L609.10,799.86 L610.61,799.87 L612.12,799.88 L613.63,799.89 L615.14,799.90 L616.65,799.91 L618.16,799.92 L619.67,799.93 L621.18,799.93 L622.69,799.94 L624.20,799.95 L625.71,799.96 L627.22,799.97 L628.73,799.98 L630.24,799.99 L631.75,800.00 L633.26,800.01 L634.77,800.02 L636.28,800.03 L637.79,800.03 L639.29,800.04 L640.80,800.05 L642.31,800.06 L643.82,800.07 L645.33,800.08 L646.84,800.08 L648.35,800.09 L649.86,800.10 L651.37,800.11 L652.88,800.12 L654.39,800.12 L655.90,800.13 L657.41,800.14 L658.92,800.15 L660.43,800.15 L661.94,800.16 L663.45,800.17 L664.96,800.17 L666.47,800.18 L667.98,800.19 L669.49,800.19 L671.00,800.20 L672.51,800.20 L674.02,800.21 L675.53,800.22 L677.04,800.22 L678.55,800.23 L680.06,800.23 L681.57,800.24 L683.08,800.24 L684.59,800.25 L686.10,800.25 L687.61,800.26 L689.12,800.26 L690.63,800.26 L692.13,800.27 L693.64,800.27 L695.15,800.27 L696.66,800.28 L698.17,800.28 L699.68,800.28 L701.19,800.29 L702.70,800.29 L704.21,800.29 L705.72,800.29 L707.23,800.29 L708.74,800.30 L710.25,800.30 L711.76,800.30 L713.27,800.30 L714.78,800.30 L716.29,800.30 L717.80,800.30 L719.13,805.97 L720.46,811.54 L721.78,816.99 L723.11,822.34 L724.44,827.58 L725.77,832.72 L727.09,837.75 L728.42,842.68 L729.75,847.51 L731.08,852.25 L732.40,856.89 L733.73,861.43 L735.06,865.88 L736.39,870.24 L737.71,874.50 L739.04,878.68 L740.37,882.77 L741.70,886.77 L743.03,890.68 L744.35,894.52 L745.68,898.27 L747.01,901.94 L748.34,905.52 L749.66,909.03 L750.99,912.47 L752.32,915.82 L753.65,919.10 L754.97,922.31 L756.30,925.45 L757.63,928.51 L758.96,931.51 L760.28,934.43 L761.61,937.29 L762.94,940.08 L764.27,942.81 L765.59,945.47 L766.92,948.07 L768.25,950.61 L769.58,953.09 L770.91,955.51 L772.23,957.87 L773.56,960.17 L774.89,962.41 L776.22,964.60 L777.54,966.74 L778.87,968.82 L780.20,970.85 L781.53,972.83 L782.85,974.75 L784.18,976.63 L785.51,978.46 L786.84,980.24 L788.16,981.98 L789.49,983.67 L790.82,985.31 L792.15,986.91 L793.48,988.47 L794.80,989.99 L796.13,991.46 L797.46,992.90 L798.79,994.29 L800.11,995.65 L801.44,996.96 L802.77,998.24 L804.10,999.49 L805.42,1000.69 L806.75,1001.87 L808.08,1003.01 L809.41,1004.11 L810.73,1005.18 L812.06,1006.22 L813.39,1007.23 L814.72,1008.21 L816.05,1009.16 L817.37,1010.08 L818.70,1010.97 L820.03,1011.84 L821.36,1012.67 L822.68,1013.48 L824.01,1014.27 L825.34,1015.03 L826.67,1015.76 L827.99,1016.47 L829.32,1017.16 L830.65,1017.82 L831.98,1018.46 L833.30,1019.08 L834.63,1019.68 L835.96,1020.26 L837.29,1020.82 L838.62,1021.35 L839.94,1021.87 L841.27,1022.37 L842.60,1022.86 L843.93,1023.32 L845.25,1023.77 L846.58,1024.20 L847.91,1024.61 L849.24,1025.01 L850.56,1025.40 L851.89,1025.77 L853.22,1026.12 L854.55,1026.46 L855.87,1026.79 L857.20,1027.10 L858.53,1027.40 L859.86,1027.69 L861.18,1027.97 L862.51,1028.23 L863.84,1028.49 L865.17,1028.73 L866.50,1028.96 L867.82,1029.19 L869.15,1029.40 L870.48,1029.60 L871.81,1029.79 L873.13,1029.98 L874.46,1030.16 L875.79,1030.32 L877.12,1030.48 L878.44,1030.64 L879.77,1030.78 L881.10,1030.92 L882.43,1031.05 L883.75,1031.17 L885.08,1031.29 L886.41,1031.40 L887.74,1031.51 L889.07,1031.61 L890.39,1031.70 L891.72,1031.79 L893.05,1031.88 L894.38,1031.96 L895.70,1032.03 L897.03,1032.10 L898.36,1032.17 L899.69,1032.23 L901.01,1032.29 L902.34,1032.35 L903.67,1032.40 L905.00,1032.45 L906.32,1032.49 L907.65,1032.53 L908.98,1032.57 L910.31,1032.61 L911.64,1032.64 L912.96,1032.68 L914.29,1032.71 L915.62,1032.73 L916.95,1032.76 L918.27,1032.78 L919.60,1032.80 L920.93,1032.82 L922.26,1032.84 L923.58,1032.86 L924.91,1032.87 L926.24,1032.89 L927.57,1032.90 L928.89,1032.91 L930.22,1032.92 L931.55,1032.93 L932.88,1032.94 L934.21,1032.95 L935.53,1032.95 L936.86,1032.96 L938.19,1032.97 L939.52,1032.97 L940.84,1032.97 L942.17,1032.98 L943.50,1032.98 L944.83,1032.98 L946.15,1032.99 L947.48,1032.99 L948.81,1032.99 L950.14,1032.99 L951.46,1032.99 L952.79,1033.00 L954.12,1033.00 L955.45,1033.00 L956.77,1033.00 L958.10,1033.00 L959.43,1033.00 L960.76,1033.00 L962.09,1033.00 L963.41,1033.00 L964.74,1033.00 L966.07,1033.00 L967.40,1033.00 L968.72,1033.00 L970.05,1033.00 L971.38,1033.00 L972.71,1033.00 L974.03,1033.00 L975.36,1033.00 L976.69,1033.00 L978.02,1033.00 L979.34,1033.00 L980.67,1033.00 L982.00,1033.00 L1246.20,1033.00" stroke="#005eff"/>
<path d="M189.34,1033.00 L190.85,1032.93 L192.36,1032.87 L193.87,1032.82 L195.38,1032.77 L196.89,1032.73 L198.40,1032.69 L199.91,1032.65 L201.42,1032.62 L202.93,1032.60 L204.44,1032.58 L205.95,1032.56 L207.46,1032.55 L208.97,1032.54 L210.48,1032.53 L211.99,1032.53 L213.50,1032.53 L215.01,1032.53 L216.52,1032.54 L218.03,1032.54 L219.54,1032.55 L221.05,1032.56 L222.56,1032.58 L224.07,1032.59 L225.58,1032.60 L227.09,1032.62 L228.60,1032.64 L230.11,1032.65 L231.62,1032.67 L233.13,1032.69 L234.64,1032.70 L236.15,1032.72 L237.66,1032.73 L239.17,1032.75 L240.68,1032.76 L242.19,1032.77 L243.70,1032.78 L245.21,1032.79 L246.72,1032.80 L248.23,1032.80 L249.74,1032.80 L251.25,1032.80 L252.76,1032.80 L254.27,1032.79 L255.78,1032.78 L257.29,1032.77 L258.80,1032.75 L260.31,1032.73 L261.82,1032.70 L263.33,1032.67 L264.84,1032.63 L266.35,1032.59 L267.86,1032.55 L269.37,1032.50 L270.88,1032.44 L272.39,1032.38 L273.90,1032.31 L275.41,1032.23 L276.92,1032.15 L278.43,1032.06 L279.94,1031.97 L281.45,1031.86 L282.96,1031.76 L284.47,1031.64 L285.98,1031.51 L287.49,1031.38 L289.00,1031.24 L290.51,1031.09 L292.02,1030.93 L293.53,1030.76 L295.04,1030.58 L296.55,1030.40 L298.06,1030.20 L299.57,1030.00 L301.08,1029.78 L302.59,1029.55 L304.10,1029.32 L305.61,1029.07 L307.12,1028.81 L308.63,1028.54 L310.14,1028.26 L311.65,1027.96 L313.16,1027.66 L314.67,1027.33 L316.18,1027.00 L317.69,1026.64 L319.20,1026.27 L320.71,1025.88 L322.23,1025.47 L323.74,1025.04 L325.25,1024.60 L326.76,1024.12 L328.27,1023.63 L329.78,1023.12 L331.29,1022.58 L332.80,1022.01 L334.31,1021.42 L335.82,1020.80 L337.33,1020.15 L338.84,1019.48 L340.35,1018.77 L341.86,1018.04 L343.37,1017.27 L344.88,1016.47 L346.39,1015.64 L347.90,1014.78 L349.41,1013.88 L350.92,1012.94 L352.43,1011.97 L353.94,1010.96 L355.45,1009.91 L356.96,1008.82 L358.47,1007.70 L359.98,1006.53 L361.49,1005.32 L363.00,1004.06 L364.51,1002.77 L366.02,1001.43 L367.53,1000.04 L369.04,998.61 L370.55,997.12 L372.06,995.60 L373.57,994.02 L375.08,992.39 L376.59,990.71 L378.10,988.99 L379.61,987.20 L381.12,985.37 L382.63,983.48 L384.14,981.54 L385.65,979.54 L387.16,977.48 L388.67,975.37 L390.18,973.19 L391.69,970.96 L393.20,968.67 L394.71,966.32 L396.22,963.90 L397.73,961.42 L399.24,958.88 L400.75,956.27 L402.26,953.60 L403.77,950.86 L405.28,948.06 L406.79,945.18 L408.30,942.24 L409.81,939.23 L411.32,936.15 L412.83,932.99 L414.34,929.76 L415.85,926.46 L417.36,923.09 L418.87,919.64 L420.38,916.12 L421.89,912.51 L423.40,908.83 L424.91,905.08 L426.42,901.24 L427.93,897.33 L429.44,893.33 L430.95,889.25 L432.46,885.10 L433.97,880.85 L435.48,876.53 L436.99,872.12 L438.50,867.62 L440.01,863.04 L441.52,858.37 L443.03,853.62 L444.54,848.77 L446.05,843.84 L447.56,838.81 L449.07,833.70 L450.58,828.49 L452.09,823.19 L453.60,817.80 L455.11,816.43 L456.62,815.12 L458.13,813.89 L459.64,812.74 L461.15,811.68 L462.66,810.65 L464.17,809.68 L465.68,808.78 L467.19,807.98 L468.70,807.30 L470.21,806.68 L471.72,806.11 L473.23,805.60 L474.74,805.15 L476.25,804.76 L477.76,804.41 L479.27,804.08 L480.77,803.80 L482.28,803.55 L483.79,803.35 L485.30,803.17 L486.81,803.00 L488.32,802.83 L489.83,802.68 L491.34,802.53 L492.85,802.41 L494.36,802.30 L495.87,802.21 L497.38,802.14 L498.89,802.10 L500.40,802.06 L501.91,802.03 L503.42,802.01 L504.93,801.98 L506.44,801.96 L507.95,801.94 L509.46,801.92 L510.97,801.91 L512.48,801.90 L513.99,801.90 L515.50,801.90 L517.01,801.90 L518.52,801.90 L520.03,801.90 L521.54,801.90 L523.05,801.91 L524.56,801.91 L526.07,801.91 L527.58,801.91 L529.09,801.92 L530.60,801.92 L532.11,801.93 L533.61,801.93 L535.12,801.93 L536.63,801.94 L538.14,801.94 L539.65,801.95 L541.16,801.95 L542.67,801.96 L544.18,801.96 L545.69,801.97 L547.20,801.98 L548.71,801.98 L550.22,801.99 L551.73,801.99 L553.24,802.00 L554.75,802.01 L556.26,802.01 L557.77,802.02 L559.28,802.03 L560.79,802.04 L562.30,802.04 L563.81,802.05 L565.32,802.06 L566.83,802.06 L568.34,802.07 L569.85,802.08 L571.36,802.08 L572.87,802.09 L574.38,802.10 L575.89,802.11 L577.40,802.11 L578.91,802.12 L580.42,802.13 L581.93,802.13 L583.44,802.14 L584.95,802.15 L586.45,802.15 L587.96,802.16 L589.47,802.16 L590.98,802.17 L592.49,802.17 L594.00,802.18 L595.51,802.19 L597.02,802.19 L598.53,802.20 L600.04,802.20 L601.55,802.20 L603.06,802.21 L604.57,802.21 L606.08,802.22 L607.59,802.22 L609.10,802.23 L610.61,802.23 L612.12,802.24 L613.63,802.24 L615.14,802.24 L616.65,802.25 L618.16,802.25 L619.67,802.26 L621.18,802.26 L622.69,802.27 L624.20,802.27 L625.71,802.27 L627.22,802.28 L628.73,802.28 L630.24,802.29 L631.75,802.29 L633.26,802.30 L634.77,802.30 L636.28,802.30 L637.79,802.31 L639.29,802.31 L640.80,802.32 L642.31,802.32 L643.82,802.32 L645.33,802.33 L646.84,802.33 L648.35,802.34 L649.86,802.34 L651.37,802.34 L652.88,802.35 L654.39,802.35 L655.90,802.36 L657.41,802.36 L658.92,802.36 L660.43,802.37 L661.94,802.37 L663.45,802.38 L664.96,802.38 L666.47,802.38 L667.98,802.39 L669.49,802.39 L671.00,802.39 L672.51,802.40 L674.02,802.40 L675.53,802.41 L677.04,802.41 L678.55,802.41 L680.06,802.42 L681.57,802.42 L683.08,802.42 L684.59,802.43 L686.10,802.43 L687.61,802.43 L689.12,802.44 L690.63,802.44 L692.13,802.45 L693.64,802.45 L695.15,802.45 L696.66,802.46 L698.17,802.46 L699.68,802.46 L701.19,802.47 L702.70,802.47 L704.21,802.47 L705.72,802.48 L707.23,802.48 L708.74,802.48 L710.25,802.48 L711.76,802.49 L713.27,802.49 L714.78,802.49 L716.29,802.50 L717.80,802.50 L719.31,805.42 L720.82,808.54 L722.33,811.85 L723.84,815.32 L725.35,818.95 L726.86,822.72 L728.37,826.60 L729.88,830.59 L731.39,834.67 L732.90,838.82 L734.41,843.02 L735.92,847.26 L737.43,851.52 L738.94,855.78 L740.45,860.03 L741.96,864.26 L743.47,868.43 L744.97,872.56 L746.48,876.61 L747.99,880.59 L749.50,884.48 L751.01,888.27 L752.52,891.96 L754.03,895.53 L755.54,898.99 L757.05,902.32 L758.56,905.55 L760.07,908.67 L761.58,911.69 L763.09,914.62 L764.60,917.47 L766.11,920.24 L767.62,922.94 L769.13,925.57 L770.64,928.15 L772.15,930.68 L773.66,933.16 L775.17,935.60 L776.68,938.01 L778.19,940.38 L779.70,942.72 L781.21,945.03 L782.72,947.30 L784.23,949.54 L785.74,951.75 L787.25,953.93 L788.76,956.07 L790.27,958.19 L791.78,960.27 L793.29,962.33 L794.80,964.36 L796.31,966.36 L797.81,968.33 L799.32,970.28 L800.83,972.20 L802.34,974.09 L803.85,975.95 L805.36,977.78 L806.87,979.58 L808.38,981.35 L809.89,983.08 L811.40,984.77 L812.91,986.42 L814.42,988.02 L815.93,989.59 L817.44,991.11 L818.95,992.58 L820.46,994.01 L821.97,995.38 L823.48,996.70 L824.99,997.97 L826.50,999.18 L828.01,1000.34 L829.52,1001.44 L831.03,1002.50 L832.54,1003.51 L834.05,1004.48 L835.56,1005.41 L837.07,1006.31 L838.58,1007.18 L840.09,1008.03 L841.60,1008.86 L843.11,1009.68 L844.62,1010.47 L846.13,1011.24 L847.64,1011.99 L849.15,1012.73 L850.65,1013.45 L852.16,1014.15 L853.67,1014.83 L855.18,1015.50 L856.69,1016.14 L858.20,1016.77 L859.71,1017.39 L861.22,1017.99 L862.73,1018.57 L864.24,1019.13 L865.75,1019.68 L867.26,1020.22 L868.77,1020.73 L870.28,1021.24 L871.79,1021.73 L873.30,1022.20 L874.81,1022.66 L876.32,1023.11 L877.83,1023.54 L879.34,1023.96 L880.85,1024.36 L882.36,1024.75 L883.87,1025.13 L885.38,1025.49 L886.89,1025.85 L888.40,1026.19 L889.91,1026.52 L891.42,1026.83 L892.93,1027.14 L894.44,1027.43 L895.95,1027.71 L897.46,1027.99 L898.97,1028.25 L900.48,1028.50 L901.99,1028.74 L903.49,1028.97 L905.00,1029.19 L906.51,1029.40 L908.02,1029.60 L909.53,1029.80 L911.04,1029.98 L912.55,1030.16 L914.06,1030.32 L915.57,1030.48 L917.08,1030.63 L918.59,1030.78 L920.10,1030.91 L921.61,1031.04 L923.12,1031.16 L924.63,1031.28 L926.14,1031.39 L927.65,1031.49 L929.16,1031.59 L930.67,1031.68 L932.18,1031.76 L933.69,1031.84 L935.20,1031.92 L936.71,1031.99 L938.22,1032.06 L939.73,1032.12 L941.24,1032.17 L942.75,1032.23 L944.26,1032.28 L945.77,1032.32 L947.28,1032.36 L948.79,1032.40 L950.30,1032.44 L951.81,1032.48 L953.32,1032.51 L954.83,1032.54 L956.33,1032.57 L957.84,1032.59 L959.35,1032.62 L960.86,1032.64 L962.37,1032.67 L963.88,1032.69 L965.39,1032.71 L966.90,1032.74 L968.41,1032.76 L969.92,1032.78 L971.43,1032.80 L972.94,1032.83 L974.45,1032.85 L975.96,1032.88 L977.47,1032.91 L978.98,1032.94 L980.49,1032.97 L982.00,1033.00 L1246.20,1033.00" stroke="#ffd500"/>
<path d="M189.34,1033.00 L191.56,1033.00 L193.78,1033.00 L196.00,1033.00 L198.22,1033.00 L200.44,1033.00 L202.66,1033.00 L204.88,1033.00 L207.11,1033.00 L209.33,1033.00 L211.55,1033.00 L213.77,1033.00 L215.99,1033.00 L218.21,1033.00 L220.43,1033.00 L222.65,1033.00 L224.87,1033.00 L227.09,1033.00 L229.31,1033.00 L231.53,1033.00 L233.75,1033.00 L235.97,1033.00 L238.19,1033.00 L240.42,1033.00 L242.64,1033.00 L244.86,1033.00 L247.08,1033.00 L249.30,1033.00 L251.52,1033.00 L253.74,1033.00 L255.96,1033.00 L258.18,1033.00 L260.40,1033.00 L262.62,1033.00 L264.84,1033.00 L267.06,1033.00 L269.28,1033.00 L271.50,1033.00 L273.73,1033.00 L275.95,1033.00 L278.17,1033.00 L280.39,1033.00 L282.61,1033.00 L284.83,1033.00 L287.05,1033.00 L289.27,1033.00 L291.49,1033.00 L293.71,1033.00 L295.93,1033.00 L298.15,1033.00 L300.37,1033.00 L302.59,1033.00 L304.81,1033.00 L307.04,1033.00 L309.26,1033.00 L311.48,1033.00 L313.70,1033.00 L315.92,1033.00 L318.14,1033.00 L320.36,1033.00 L322.58,1033.00 L324.80,1033.00 L327.02,1033.00 L329.24,1033.00 L331.46,1033.00 L333.68,1033.00 L335.90,1033.00 L338.13,1033.00 L340.35,1033.00 L342.57,1033.00 L344.79,1033.00 L347.01,1033.00 L349.23,1033.00 L351.45,1033.00 L353.67,1033.00 L355.89,1033.00 L358.11,1033.00 L360.33,1033.00 L362.55,1032.99 L364.77,1032.99 L366.99,1032.99 L369.21,1032.99 L371.44,1032.98 L373.66,1032.98 L375.88,1032.97 L378.10,1032.96 L380.32,1032.95 L382.54,1032.94 L384.76,1032.93 L386.98,1032.91 L389.20,1032.88 L391.42,1032.85 L393.64,1032.81 L395.86,1032.76 L398.08,1032.70 L400.30,1032.63 L402.52,1032.54 L404.75,1032.43 L406.97,1032.29 L409.19,1032.12 L411.41,1031.92 L413.63,1031.67 L415.85,1031.36 L418.07,1030.99 L420.29,1030.53 L422.51,1029.98 L424.73,1029.32 L426.95,1028.52 L429.17,1027.55 L431.39,1026.38 L433.61,1024.98 L435.83,1023.31 L438.06,1021.30 L440.28,1018.90 L442.50,1016.03 L444.72,1012.61 L446.94,1008.55 L449.16,1003.72 L451.38,997.99 L453.60,991.20 L455.11,990.91 L456.62,990.63 L458.13,990.36 L459.64,990.09 L461.15,989.84 L462.66,989.60 L464.17,989.37 L465.68,989.15 L467.19,988.95 L468.70,988.77 L470.21,988.59 L471.72,988.42 L473.23,988.25 L474.74,988.10 L476.25,987.94 L477.76,987.80 L479.27,987.66 L480.77,987.53 L482.28,987.40 L483.79,987.28 L485.30,987.16 L486.81,987.05 L488.32,986.94 L489.83,986.83 L491.34,986.73 L492.85,986.63 L494.36,986.53 L495.87,986.44 L497.38,986.35 L498.89,986.27 L500.40,986.19 L501.91,986.12 L503.42,986.05 L504.93,985.98 L506.44,985.92 L507.95,985.86 L509.46,985.80 L510.97,985.74 L512.48,985.68 L513.99,985.63 L515.50,985.58 L517.01,985.53 L518.52,985.49 L520.03,985.45 L521.54,985.42 L523.05,985.40 L524.56,985.38 L526.07,985.36 L527.58,985.34 L529.09,985.32 L530.60,985.30 L532.11,985.28 L533.61,985.27 L535.12,985.25 L536.63,985.23 L538.14,985.22 L539.65,985.20 L541.16,985.19 L542.67,985.18 L544.18,985.16 L545.69,985.15 L547.20,985.14 L548.71,985.13 L550.22,985.13 L551.73,985.12 L553.24,985.11 L554.75,985.11 L556.26,985.10 L557.77,985.10 L559.28,985.10 L560.79,985.10 L562.30,985.10 L563.81,985.10 L565.32,985.10 L566.83,985.10 L568.34,985.10 L569.85,985.11 L571.36,985.11 L572.87,985.11 L574.38,985.11 L575.89,985.11 L577.40,985.12 L578.91,985.12 L580.42,985.12 L581.93,985.13 L583.44,985.13 L584.95,985.13 L586.45,985.14 L587.96,985.14 L589.47,985.14 L590.98,985.15 L592.49,985.15 L594.00,985.16 L595.51,985.16 L597.02,985.17 L598.53,985.17 L600.04,985.17 L601.55,985.18 L603.06,985.18 L604.57,985.19 L606.08,985.19 L607.59,985.20 L609.10,985.20 L610.61,985.21 L612.12,985.21 L613.63,985.22 L615.14,985.22 L616.65,985.23 L618.16,985.23 L619.67,985.24 L621.18,985.24 L622.69,985.25 L624.20,985.25 L625.71,985.26 L627.22,985.26 L628.73,985.27 L630.24,985.27 L631.75,985.28 L633.26,985.28 L634.77,985.29 L636.28,985.29 L637.79,985.29 L639.29,985.30 L640.80,985.30 L642.31,985.31 L643.82,985.31 L645.33,985.31 L646.84,985.32 L648.35,985.32 L649.86,985.33 L651.37,985.33 L652.88,985.33 L654.39,985.34 L655.90,985.34 L657.41,985.34 L658.92,985.35 L660.43,985.35 L661.94,985.36 L663.45,985.36 L664.96,985.36 L666.47,985.37 L667.98,985.37 L669.49,985.38 L671.00,985.38 L672.51,985.38 L674.02,985.39 L675.53,985.39 L677.04,985.39 L678.55,985.40 L680.06,985.40 L681.57,985.41 L683.08,985.41 L684.59,985.41 L686.10,985.42 L687.61,985.42 L689.12,985.43 L690.63,985.43 L692.13,985.43 L693.64,985.44 L695.15,985.44 L696.66,985.45 L698.17,985.45 L699.68,985.45 L701.19,985.46 L702.70,985.46 L704.21,985.46 L705.72,985.47 L707.23,985.47 L708.74,985.48 L710.25,985.48 L711.76,985.48 L713.27,985.49 L714.78,985.49 L716.29,985.50 L717.80,985.50 L719.31,989.53 L720.82,993.45 L722.33,997.33 L723.84,1001.07 L725.35,1004.49 L726.86,1007.71 L728.37,1010.63 L729.88,1013.16 L731.39,1015.43 L732.90,1017.40 L734.41,1019.03 L735.92,1020.51 L737.43,1021.87 L738.94,1023.10 L740.45,1024.20 L741.96,1025.17 L743.47,1026.00 L744.97,1026.73 L746.48,1027.39 L747.99,1027.98 L749.50,1028.53 L751.01,1029.03 L752.52,1029.50 L754.03,1029.97 L755.54,1030.42 L757.05,1030.84 L758.56,1031.21 L760.07,1031.51 L761.58,1031.72 L763.09,1031.88 L764.60,1032.03 L766.11,1032.18 L767.62,1032.31 L769.13,1032.43 L770.64,1032.54 L772.15,1032.63 L773.66,1032.71 L775.17,1032.78 L776.68,1032.84 L778.19,1032.88 L779.70,1032.90 L781.21,1032.91 L782.72,1032.93 L784.23,1032.94 L785.74,1032.95 L787.25,1032.96 L788.76,1032.97 L790.27,1032.98 L791.78,1032.98 L793.29,1032.99 L794.80,1032.99 L796.31,1033.00 L797.81,1033.00 L799.32,1033.00 L800.83,1033.00 L802.34,1033.00 L803.85,1033.00 L805.36,1033.00 L806.87,1033.00 L808.38,1033.00 L809.89,1033.00 L811.40,1033.00 L812.91,1033.00 L814.42,1033.00 L815.93,1033.00 L817.44,1033.00 L818.95,1033.00 L820.46,1033.00 L821.97,1033.00 L823.48,1033.00 L824.99,1033.00 L826.50,1033.00 L828.01,1033.00 L829.52,1033.00 L831.03,1033.00 L832.54,1033.00 L834.05,1033.00 L835.56,1033.00 L837.07,1033.00 L838.58,1033.00 L840.09,1033.00 L841.60,1033.00 L843.11,1033.00 L844.62,1033.00 L846.13,1033.00 L847.64,1033.00 L849.15,1033.00 L850.65,1033.00 L852.16,1033.00 L853.67,1033.00 L855.18,1033.00 L856.69,1033.00 L858.20,1033.00 L859.71,1033.00 L861.22,1033.00 L862.73,1033.00 L864.24,1033.00 L865.75,1033.00 L867.26,1033.00 L868.77,1033.00 L870.28,1033.00 L871.79,1033.00 L873.30,1033.00 L874.81,1033.00 L876.32,1033.00 L877.83,1033.00 L879.34,1033.00 L880.85,1033.00 L882.36,1033.00 L883.87,1033.00 L885.38,1033.00 L886.89,1033.00 L888.40,1033.00 L889.91,1033.00 L891.42,1033.00 L892.93,1033.00 L894.44,1033.00 L895.95,1033.00 L897.46,1033.00 L898.97,1033.00 L900.48,1033.00 L901.99,1033.00 L903.49,1033.00 L905.00,1033.00 L906.51,1033.00 L908.02,1033.00 L909.53,1033.00 L911.04,1033.00 L912.55,1033.00 L914.06,1033.00 L915.57,1033.00 L917.08,1033.00 L918.59,1033.00 L920.10,1033.00 L921.61,1033.00 L923.12,1033.00 L924.63,1033.00 L926.14,1033.00 L927.65,1033.00 L929.16,1033.00 L930.67,1033.00 L932.18,1033.00 L933.69,1033.00 L935.20,1033.00 L936.71,1033.00 L938.22,1033.00 L939.73,1033.00 L941.24,1033.00 L942.75,1033.00 L944.26,1033.00 L945.77,1033.00 L947.28,1033.00 L948.79,1033.00 L950.30,1033.00 L951.81,1033.00 L953.32,1033.00 L954.83,1033.00 L956.33,1033.00 L957.84,1033.00 L959.35,1033.00 L960.86,1033.00 L962.37,1033.00 L963.88,1033.00 L965.39,1033.00 L966.90,1033.00 L968.41,1033.00 L969.92,1033.00 L971.43,1033.00 L972.94,1033.00 L974.45,1033.00 L975.96,1033.00 L977.47,1033.00 L978.98,1033.00 L980.49,1033.00 L982.00,1033.00 L1246.20,1033.00" stroke="#ff6200"/>
</g>
<rect x="136.5" y="754.2" width="1162.50" height="292.20" fill="none" stroke="#000" stroke-width="1.9" stroke-linejoin="miter"/>
<g stroke="#000" stroke-width="1.9">
<line x1="189.34" y1="1046.4" x2="189.34" y2="1054.70"/>
<line x1="324.86" y1="1046.4" x2="324.86" y2="1054.70"/>
<line x1="460.38" y1="1046.4" x2="460.38" y2="1054.70"/>
<line x1="595.90" y1="1046.4" x2="595.90" y2="1054.70"/>
<line x1="731.42" y1="1046.4" x2="731.42" y2="1054.70"/>
<line x1="866.94" y1="1046.4" x2="866.94" y2="1054.70"/>
<line x1="1002.46" y1="1046.4" x2="1002.46" y2="1054.70"/>
<line x1="1137.98" y1="1046.4" x2="1137.98" y2="1054.70"/>
<line x1="1273.50" y1="1046.4" x2="1273.50" y2="1054.70"/>
<line x1="136.5" y1="1033.0" x2="128.20" y2="1033.0"/>
<line x1="136.5" y1="944.3" x2="128.20" y2="944.3"/>
<line x1="136.5" y1="855.6" x2="128.20" y2="855.6"/>
<line x1="136.5" y1="766.8" x2="128.20" y2="766.8"/>
</g>
<g fill="#000" style="filter:grayscale(1)">
<text transform="translate(170.87,1081.10) scale(1.0484,1)" font-size="25.33">0.0</text>
<text transform="translate(306.41,1081.10) scale(1.0330,1)" font-size="25.33">0.2</text>
<text transform="translate(441.91,1081.10) scale(1.0479,1)" font-size="25.33">0.4</text>
<text transform="translate(577.43,1081.10) scale(1.0548,1)" font-size="25.33">0.6</text>
<text transform="translate(712.95,1081.10) scale(1.0505,1)" font-size="25.33">0.8</text>
<text transform="translate(848.54,1081.10) scale(1.0464,1)" font-size="25.33">1.0</text>
<text transform="translate(984.09,1081.10) scale(1.0305,1)" font-size="25.33">1.2</text>
<text transform="translate(1119.58,1081.10) scale(1.0459,1)" font-size="25.33">1.4</text>
<text transform="translate(1255.09,1081.10) scale(1.0529,1)" font-size="25.33">1.6</text>
<text transform="translate(37.49,1041.90) scale(1.0656,1)" font-size="25.33">0.0000</text>
<text transform="translate(37.50,953.20) scale(1.0600,1)" font-size="25.33">0.0005</text>
<text transform="translate(37.49,864.50) scale(1.0656,1)" font-size="25.33">0.0010</text>
<text transform="translate(37.50,775.70) scale(1.0600,1)" font-size="25.33">0.0015</text>
</g>
<clipPath id="c3"><rect x="136.5" y="1112.0" width="1162.50" height="292.20"/></clipPath>
<g clip-path="url(#c3)" fill="none" stroke-width="3.65" stroke-linejoin="round" stroke-linecap="square">
<path d="M189.34,1258.60 L189.34,1134.20 L190.85,1134.13 L192.36,1134.07 L193.87,1134.01 L195.38,1133.94 L196.89,1133.88 L198.40,1133.82 L199.91,1133.76 L201.42,1133.70 L202.93,1133.64 L204.44,1133.58 L205.95,1133.53 L207.46,1133.47 L208.97,1133.42 L210.48,1133.37 L211.99,1133.33 L213.50,1133.28 L215.01,1133.24 L216.52,1133.20 L218.03,1133.16 L219.54,1133.12 L221.05,1133.09 L222.56,1133.06 L224.07,1133.03 L225.58,1133.01 L227.09,1132.99 L228.60,1132.97 L230.11,1132.94 L231.62,1132.92 L233.13,1132.90 L234.64,1132.88 L236.15,1132.87 L237.66,1132.85 L239.17,1132.83 L240.68,1132.81 L242.19,1132.79 L243.70,1132.78 L245.21,1132.76 L246.72,1132.74 L248.23,1132.73 L249.74,1132.71 L251.25,1132.70 L252.76,1132.69 L254.27,1132.67 L255.78,1132.66 L257.29,1132.65 L258.80,1132.64 L260.31,1132.63 L261.82,1132.63 L263.33,1132.62 L264.84,1132.61 L266.35,1132.61 L267.86,1132.60 L269.37,1132.60 L270.88,1132.60 L272.39,1132.60 L273.90,1132.60 L275.41,1132.60 L276.92,1132.61 L278.43,1132.61 L279.94,1132.61 L281.45,1132.62 L282.96,1132.63 L284.47,1132.63 L285.98,1132.64 L287.49,1132.65 L289.00,1132.66 L290.51,1132.67 L292.02,1132.69 L293.53,1132.70 L295.04,1132.71 L296.55,1132.73 L298.06,1132.74 L299.57,1132.76 L301.08,1132.78 L302.59,1132.79 L304.10,1132.81 L305.61,1132.83 L307.12,1132.85 L308.63,1132.87 L310.14,1132.89 L311.65,1132.91 L313.16,1132.93 L314.67,1132.95 L316.18,1132.97 L317.69,1132.99 L319.20,1133.02 L320.71,1133.05 L322.23,1133.08 L323.74,1133.12 L325.25,1133.17 L326.76,1133.22 L328.27,1133.28 L329.78,1133.34 L331.29,1133.40 L332.80,1133.47 L334.31,1133.55 L335.82,1133.62 L337.33,1133.70 L338.84,1133.78 L340.35,1133.87 L341.86,1133.95 L343.37,1134.04 L344.88,1134.13 L346.39,1134.22 L347.90,1134.32 L349.41,1134.41 L350.92,1134.50 L352.43,1134.60 L353.94,1134.69 L355.45,1134.78 L356.96,1134.87 L358.47,1134.96 L359.98,1135.05 L361.49,1135.14 L363.00,1135.23 L364.51,1135.31 L366.02,1135.39 L367.53,1135.48 L369.04,1135.56 L370.55,1135.65 L372.06,1135.73 L373.57,1135.82 L375.08,1135.91 L376.59,1136.00 L378.10,1136.09 L379.61,1136.18 L381.12,1136.27 L382.63,1136.36 L384.14,1136.45 L385.65,1136.54 L387.16,1136.63 L388.67,1136.72 L390.18,1136.82 L391.69,1136.91 L393.20,1137.00 L394.71,1137.10 L396.22,1137.19 L397.73,1137.29 L399.24,1137.38 L400.75,1137.48 L402.26,1137.58 L403.77,1137.67 L405.28,1137.77 L406.79,1137.87 L408.30,1137.96 L409.81,1138.06 L411.32,1138.16 L412.83,1138.26 L414.34,1138.36 L415.85,1138.46 L417.36,1138.56 L418.87,1138.66 L420.38,1138.76 L421.89,1138.86 L423.40,1138.96 L424.91,1139.06 L426.42,1139.17 L427.93,1139.27 L429.44,1139.38 L430.95,1139.48 L432.46,1139.58 L433.97,1139.69 L435.48,1139.80 L436.99,1139.90 L438.50,1140.01 L440.01,1140.12 L441.52,1140.22 L443.03,1140.33 L444.54,1140.44 L446.05,1140.55 L447.56,1140.66 L449.07,1140.77 L450.58,1140.88 L452.09,1140.99 L453.60,1141.10 L453.60,1265.30 L455.11,1264.70 L456.62,1264.14 L458.13,1263.63 L459.64,1263.19 L461.15,1262.82 L462.66,1262.49 L464.17,1262.19 L465.68,1261.93 L467.19,1261.70 L468.70,1261.52 L470.21,1261.34 L471.72,1261.18 L473.23,1261.02 L474.74,1260.88 L476.25,1260.74 L477.76,1260.60 L479.27,1260.48 L480.77,1260.36 L482.28,1260.25 L483.79,1260.15 L485.30,1260.05 L486.81,1259.95 L488.32,1259.86 L489.83,1259.77 L491.34,1259.69 L492.85,1259.60 L494.36,1259.52 L495.87,1259.44 L497.38,1259.36 L498.89,1259.29 L500.40,1259.22 L501.91,1259.15 L503.42,1259.10 L504.93,1259.05 L506.44,1259.02 L507.95,1259.00 L509.46,1258.98 L510.97,1258.96 L512.48,1258.94 L513.99,1258.92 L515.50,1258.90 L517.01,1258.89 L518.52,1258.87 L520.03,1258.86 L521.54,1258.84 L523.05,1258.83 L524.56,1258.82 L526.07,1258.81 L527.58,1258.79 L529.09,1258.78 L530.60,1258.77 L532.11,1258.76 L533.61,1258.76 L535.12,1258.75 L536.63,1258.74 L538.14,1258.73 L539.65,1258.73 L541.16,1258.72 L542.67,1258.72 L544.18,1258.71 L545.69,1258.71 L547.20,1258.70 L548.71,1258.70 L550.22,1258.70 L551.73,1258.70 L553.24,1258.70 L554.75,1258.69 L556.26,1258.69 L557.77,1258.69 L559.28,1258.69 L560.79,1258.69 L562.30,1258.68 L563.81,1258.68 L565.32,1258.68 L566.83,1258.68 L568.34,1258.68 L569.85,1258.68 L571.36,1258.67 L572.87,1258.67 L574.38,1258.67 L575.89,1258.67 L577.40,1258.67 L578.91,1258.67 L580.42,1258.66 L581.93,1258.66 L583.44,1258.66 L584.95,1258.66 L586.45,1258.66 L587.96,1258.66 L589.47,1258.66 L590.98,1258.65 L592.49,1258.65 L594.00,1258.65 L595.51,1258.65 L597.02,1258.65 L598.53,1258.65 L600.04,1258.65 L601.55,1258.64 L603.06,1258.64 L604.57,1258.64 L606.08,1258.64 L607.59,1258.64 L609.10,1258.64 L610.61,1258.64 L612.12,1258.64 L613.63,1258.64 L615.14,1258.63 L616.65,1258.63 L618.16,1258.63 L619.67,1258.63 L621.18,1258.63 L622.69,1258.63 L624.20,1258.63 L625.71,1258.63 L627.22,1258.63 L628.73,1258.63 L630.24,1258.62 L631.75,1258.62 L633.26,1258.62 L634.77,1258.62 L636.28,1258.62 L637.79,1258.62 L639.29,1258.62 L640.80,1258.62 L642.31,1258.62 L643.82,1258.62 L645.33,1258.62 L646.84,1258.62 L648.35,1258.61 L649.86,1258.61 L651.37,1258.61 L652.88,1258.61 L654.39,1258.61 L655.90,1258.61 L657.41,1258.61 L658.92,1258.61 L660.43,1258.61 L661.94,1258.61 L663.45,1258.61 L664.96,1258.61 L666.47,1258.61 L667.98,1258.61 L669.49,1258.61 L671.00,1258.61 L672.51,1258.61 L674.02,1258.61 L675.53,1258.61 L677.04,1258.60 L678.55,1258.60 L680.06,1258.60 L681.57,1258.60 L683.08,1258.60 L684.59,1258.60 L686.10,1258.60 L687.61,1258.60 L689.12,1258.60 L690.63,1258.60 L692.13,1258.60 L693.64,1258.60 L695.15,1258.60 L696.66,1258.60 L698.17,1258.60 L699.68,1258.60 L701.19,1258.60 L702.70,1258.60 L704.21,1258.60 L705.72,1258.60 L707.23,1258.60 L708.74,1258.60 L710.25,1258.60 L711.76,1258.60 L713.27,1258.60 L714.78,1258.60 L716.29,1258.60 L717.80,1258.60 L717.80,1380.60 L719.31,1380.33 L720.82,1380.06 L722.33,1379.79 L723.84,1379.53 L725.35,1379.28 L726.86,1379.04 L728.37,1378.82 L729.88,1378.63 L731.39,1378.46 L732.90,1378.32 L734.41,1378.21 L735.92,1378.13 L737.43,1378.05 L738.94,1377.97 L740.45,1377.89 L741.96,1377.82 L743.47,1377.74 L744.97,1377.68 L746.48,1377.61 L747.99,1377.55 L749.50,1377.49 L751.01,1377.44 L752.52,1377.39 L754.03,1377.34 L755.54,1377.29 L757.05,1377.25 L758.56,1377.22 L760.07,1377.19 L761.58,1377.16 L763.09,1377.14 L764.60,1377.12 L766.11,1377.11 L767.62,1377.10 L769.13,1377.10 L770.64,1377.10 L772.15,1377.11 L773.66,1377.13 L775.17,1377.16 L776.68,1377.19 L778.19,1377.22 L779.70,1377.26 L781.21,1377.30 L782.72,1377.35 L784.23,1377.40 L785.74,1377.46 L787.25,1377.52 L788.76,1377.58 L790.27,1377.64 L791.78,1377.70 L793.29,1377.76 L794.80,1377.83 L796.31,1377.89 L797.81,1377.96 L799.32,1378.02 L800.83,1378.09 L802.34,1378.15 L803.85,1378.21 L805.36,1378.27 L806.87,1378.33 L808.38,1378.40 L809.89,1378.47 L811.40,1378.54 L812.91,1378.61 L814.42,1378.69 L815.93,1378.76 L817.44,1378.84 L818.95,1378.92 L820.46,1379.00 L821.97,1379.08 L823.48,1379.16 L824.99,1379.24 L826.50,1379.32 L828.01,1379.40 L829.52,1379.48 L831.03,1379.56 L832.54,1379.63 L834.05,1379.71 L835.56,1379.78 L837.07,1379.85 L838.58,1379.92 L840.09,1379.98 L841.60,1380.05 L843.11,1380.11 L844.62,1380.18 L846.13,1380.24 L847.64,1380.31 L849.15,1380.37 L850.65,1380.44 L852.16,1380.50 L853.67,1380.56 L855.18,1380.63 L856.69,1380.69 L858.20,1380.75 L859.71,1380.81 L861.22,1380.87 L862.73,1380.93 L864.24,1380.99 L865.75,1381.05 L867.26,1381.11 L868.77,1381.16 L870.28,1381.22 L871.79,1381.28 L873.30,1381.33 L874.81,1381.38 L876.32,1381.44 L877.83,1381.49 L879.34,1381.54 L880.85,1381.59 L882.36,1381.64 L883.87,1381.69 L885.38,1381.73 L886.89,1381.78 L888.40,1381.83 L889.91,1381.87 L891.42,1381.91 L892.93,1381.96 L894.44,1382.00 L895.95,1382.04 L897.46,1382.08 L898.97,1382.13 L900.48,1382.17 L901.99,1382.21 L903.49,1382.25 L905.00,1382.28 L906.51,1382.32 L908.02,1382.36 L909.53,1382.40 L911.04,1382.44 L912.55,1382.47 L914.06,1382.51 L915.57,1382.55 L917.08,1382.58 L918.59,1382.62 L920.10,1382.66 L921.61,1382.69 L923.12,1382.73 L924.63,1382.76 L926.14,1382.80 L927.65,1382.84 L929.16,1382.87 L930.67,1382.91 L932.18,1382.94 L933.69,1382.98 L935.20,1383.01 L936.71,1383.05 L938.22,1383.08 L939.73,1383.12 L941.24,1383.15 L942.75,1383.18 L944.26,1383.22 L945.77,1383.25 L947.28,1383.29 L948.79,1383.32 L950.30,1383.35 L951.81,1383.39 L953.32,1383.42 L954.83,1383.45 L956.33,1383.48 L957.84,1383.52 L959.35,1383.55 L960.86,1383.58 L962.37,1383.61 L963.88,1383.64 L965.39,1383.67 L966.90,1383.70 L968.41,1383.73 L969.92,1383.76 L971.43,1383.80 L972.94,1383.83 L974.45,1383.85 L975.96,1383.88 L977.47,1383.91 L978.98,1383.94 L980.49,1383.97 L982.00,1384.00 L982.00,1259.60 L983.51,1259.57 L985.02,1259.53 L986.53,1259.50 L988.04,1259.46 L989.55,1259.42 L991.06,1259.39 L992.57,1259.35 L994.08,1259.31 L995.59,1259.28 L997.10,1259.24 L998.61,1259.20 L1000.12,1259.17 L1001.63,1259.13 L1003.14,1259.09 L1004.65,1259.06 L1006.16,1259.02 L1007.67,1258.99 L1009.17,1258.95 L1010.68,1258.92 L1012.19,1258.89 L1013.70,1258.86 L1015.21,1258.83 L1016.72,1258.80 L1018.23,1258.77 L1019.74,1258.75 L1021.25,1258.73 L1022.76,1258.70 L1024.27,1258.68 L1025.78,1258.67 L1027.29,1258.65 L1028.80,1258.64 L1030.31,1258.62 L1031.82,1258.61 L1033.33,1258.61 L1034.84,1258.60 L1036.35,1258.60 L1037.86,1258.60 L1039.37,1258.60 L1040.88,1258.60 L1042.39,1258.60 L1043.90,1258.60 L1045.41,1258.60 L1046.92,1258.60 L1048.43,1258.60 L1049.94,1258.60 L1051.45,1258.60 L1052.96,1258.60 L1054.47,1258.60 L1055.98,1258.60 L1057.49,1258.60 L1059.00,1258.60 L1060.51,1258.60 L1062.01,1258.60 L1063.52,1258.60 L1065.03,1258.60 L1066.54,1258.60 L1068.05,1258.60 L1069.56,1258.60 L1071.07,1258.60 L1072.58,1258.60 L1074.09,1258.60 L1075.60,1258.60 L1077.11,1258.60 L1078.62,1258.60 L1080.13,1258.60 L1081.64,1258.60 L1083.15,1258.60 L1084.66,1258.60 L1086.17,1258.60 L1087.68,1258.60 L1089.19,1258.60 L1090.70,1258.60 L1092.21,1258.60 L1093.72,1258.60 L1095.23,1258.60 L1096.74,1258.60 L1098.25,1258.60 L1099.76,1258.60 L1101.27,1258.60 L1102.78,1258.60 L1104.29,1258.60 L1105.80,1258.60 L1107.31,1258.60 L1108.82,1258.60 L1110.33,1258.60 L1111.84,1258.60 L1113.35,1258.60 L1114.85,1258.60 L1116.36,1258.60 L1117.87,1258.60 L1119.38,1258.60 L1120.89,1258.60 L1122.40,1258.60 L1123.91,1258.60 L1125.42,1258.60 L1126.93,1258.60 L1128.44,1258.60 L1129.95,1258.60 L1131.46,1258.60 L1132.97,1258.60 L1134.48,1258.60 L1135.99,1258.60 L1137.50,1258.60 L1139.01,1258.60 L1140.52,1258.60 L1142.03,1258.60 L1143.54,1258.60 L1145.05,1258.60 L1146.56,1258.60 L1148.07,1258.60 L1149.58,1258.60 L1151.09,1258.60 L1152.60,1258.60 L1154.11,1258.60 L1155.62,1258.60 L1157.13,1258.60 L1158.64,1258.60 L1160.15,1258.60 L1161.66,1258.60 L1163.17,1258.60 L1164.68,1258.60 L1166.19,1258.60 L1167.69,1258.60 L1169.20,1258.60 L1170.71,1258.60 L1172.22,1258.60 L1173.73,1258.60 L1175.24,1258.60 L1176.75,1258.60 L1178.26,1258.60 L1179.77,1258.60 L1181.28,1258.60 L1182.79,1258.60 L1184.30,1258.60 L1185.81,1258.60 L1187.32,1258.60 L1188.83,1258.60 L1190.34,1258.60 L1191.85,1258.60 L1193.36,1258.60 L1194.87,1258.60 L1196.38,1258.60 L1197.89,1258.60 L1199.40,1258.60 L1200.91,1258.60 L1202.42,1258.60 L1203.93,1258.60 L1205.44,1258.60 L1206.95,1258.60 L1208.46,1258.60 L1209.97,1258.60 L1211.48,1258.60 L1212.99,1258.60 L1214.50,1258.60 L1216.01,1258.60 L1217.52,1258.60 L1219.03,1258.60 L1220.53,1258.60 L1222.04,1258.60 L1223.55,1258.60 L1225.06,1258.60 L1226.57,1258.60 L1228.08,1258.60 L1229.59,1258.60 L1231.10,1258.60 L1232.61,1258.60 L1234.12,1258.60 L1235.63,1258.60 L1237.14,1258.60 L1238.65,1258.60 L1240.16,1258.60 L1241.67,1258.60 L1243.18,1258.60 L1244.69,1258.60 L1246.20,1258.60" stroke="#005eff"/>
<path d="M189.34,1258.60 L189.34,1133.40 L190.85,1133.09 L192.36,1132.79 L193.87,1132.49 L195.38,1132.20 L196.89,1131.92 L198.40,1131.65 L199.91,1131.39 L201.42,1131.14 L202.93,1130.91 L204.44,1130.68 L205.95,1130.47 L207.46,1130.28 L208.97,1130.09 L210.48,1129.91 L211.99,1129.74 L213.50,1129.57 L215.01,1129.41 L216.52,1129.25 L218.03,1129.10 L219.54,1128.96 L221.05,1128.82 L222.56,1128.68 L224.07,1128.54 L225.58,1128.41 L227.09,1128.28 L228.60,1128.15 L230.11,1128.02 L231.62,1127.90 L233.13,1127.77 L234.64,1127.65 L236.15,1127.54 L237.66,1127.42 L239.17,1127.31 L240.68,1127.20 L242.19,1127.09 L243.70,1126.99 L245.21,1126.88 L246.72,1126.78 L248.23,1126.68 L249.74,1126.58 L251.25,1126.49 L252.76,1126.39 L254.27,1126.30 L255.78,1126.20 L257.29,1126.11 L258.80,1126.01 L260.31,1125.92 L261.82,1125.84 L263.33,1125.75 L264.84,1125.68 L266.35,1125.60 L267.86,1125.53 L269.37,1125.46 L270.88,1125.40 L272.39,1125.35 L273.90,1125.29 L275.41,1125.23 L276.92,1125.17 L278.43,1125.12 L279.94,1125.06 L281.45,1125.01 L282.96,1124.96 L284.47,1124.92 L285.98,1124.88 L287.49,1124.85 L289.00,1124.82 L290.51,1124.81 L292.02,1124.80 L293.53,1124.80 L295.04,1124.80 L296.55,1124.81 L298.06,1124.82 L299.57,1124.83 L301.08,1124.84 L302.59,1124.86 L304.10,1124.88 L305.61,1124.89 L307.12,1124.91 L308.63,1124.94 L310.14,1124.96 L311.65,1124.98 L313.16,1125.01 L314.67,1125.03 L316.18,1125.06 L317.69,1125.08 L319.20,1125.11 L320.71,1125.13 L322.23,1125.16 L323.74,1125.18 L325.25,1125.21 L326.76,1125.23 L328.27,1125.26 L329.78,1125.29 L331.29,1125.31 L332.80,1125.34 L334.31,1125.37 L335.82,1125.40 L337.33,1125.44 L338.84,1125.47 L340.35,1125.50 L341.86,1125.54 L343.37,1125.57 L344.88,1125.61 L346.39,1125.64 L347.90,1125.68 L349.41,1125.72 L350.92,1125.76 L352.43,1125.79 L353.94,1125.83 L355.45,1125.87 L356.96,1125.91 L358.47,1125.95 L359.98,1125.99 L361.49,1126.03 L363.00,1126.07 L364.51,1126.11 L366.02,1126.15 L367.53,1126.19 L369.04,1126.23 L370.55,1126.27 L372.06,1126.31 L373.57,1126.36 L375.08,1126.40 L376.59,1126.45 L378.10,1126.50 L379.61,1126.54 L381.12,1126.59 L382.63,1126.64 L384.14,1126.69 L385.65,1126.74 L387.16,1126.78 L388.67,1126.83 L390.18,1126.88 L391.69,1126.93 L393.20,1126.98 L394.71,1127.03 L396.22,1127.07 L397.73,1127.12 L399.24,1127.17 L400.75,1127.22 L402.26,1127.26 L403.77,1127.31 L405.28,1127.35 L406.79,1127.40 L408.30,1127.44 L409.81,1127.48 L411.32,1127.53 L412.83,1127.57 L414.34,1127.61 L415.85,1127.65 L417.36,1127.69 L418.87,1127.73 L420.38,1127.77 L421.89,1127.81 L423.40,1127.85 L424.91,1127.89 L426.42,1127.93 L427.93,1127.97 L429.44,1128.01 L430.95,1128.05 L432.46,1128.09 L433.97,1128.12 L435.48,1128.16 L436.99,1128.20 L438.50,1128.24 L440.01,1128.28 L441.52,1128.31 L443.03,1128.35 L444.54,1128.39 L446.05,1128.42 L447.56,1128.46 L449.07,1128.49 L450.58,1128.53 L452.09,1128.56 L453.60,1128.60 L453.60,1253.50 L455.11,1253.84 L456.62,1254.18 L458.13,1254.52 L459.64,1254.84 L461.15,1255.15 L462.66,1255.44 L464.17,1255.71 L465.68,1255.96 L467.19,1256.18 L468.70,1256.37 L470.21,1256.52 L471.72,1256.65 L473.23,1256.78 L474.74,1256.91 L476.25,1257.03 L477.76,1257.15 L479.27,1257.26 L480.77,1257.37 L482.28,1257.47 L483.79,1257.56 L485.30,1257.65 L486.81,1257.74 L488.32,1257.82 L489.83,1257.89 L491.34,1257.95 L492.85,1258.01 L494.36,1258.07 L495.87,1258.11 L497.38,1258.15 L498.89,1258.18 L500.40,1258.21 L501.91,1258.23 L503.42,1258.25 L504.93,1258.27 L506.44,1258.29 L507.95,1258.31 L509.46,1258.33 L510.97,1258.35 L512.48,1258.37 L513.99,1258.38 L515.50,1258.40 L517.01,1258.42 L518.52,1258.43 L520.03,1258.45 L521.54,1258.46 L523.05,1258.48 L524.56,1258.49 L526.07,1258.50 L527.58,1258.51 L529.09,1258.52 L530.60,1258.53 L532.11,1258.54 L533.61,1258.55 L535.12,1258.56 L536.63,1258.57 L538.14,1258.58 L539.65,1258.58 L541.16,1258.59 L542.67,1258.59 L544.18,1258.59 L545.69,1258.60 L547.20,1258.60 L548.71,1258.60 L550.22,1258.60 L551.73,1258.60 L553.24,1258.60 L554.75,1258.60 L556.26,1258.60 L557.77,1258.60 L559.28,1258.60 L560.79,1258.60 L562.30,1258.60 L563.81,1258.60 L565.32,1258.60 L566.83,1258.60 L568.34,1258.60 L569.85,1258.60 L571.36,1258.60 L572.87,1258.60 L574.38,1258.60 L575.89,1258.60 L577.40,1258.60 L578.91,1258.60 L580.42,1258.60 L581.93,1258.60 L583.44,1258.60 L584.95,1258.60 L586.45,1258.60 L587.96,1258.60 L589.47,1258.60 L590.98,1258.60 L592.49,1258.60 L594.00,1258.60 L595.51,1258.60 L597.02,1258.60 L598.53,1258.60 L600.04,1258.60 L601.55,1258.60 L603.06,1258.60 L604.57,1258.60 L606.08,1258.60 L607.59,1258.60 L609.10,1258.60 L610.61,1258.60 L612.12,1258.60 L613.63,1258.60 L615.14,1258.60 L616.65,1258.60 L618.16,1258.60 L619.67,1258.60 L621.18,1258.60 L622.69,1258.60 L624.20,1258.60 L625.71,1258.60 L627.22,1258.60 L628.73,1258.60 L630.24,1258.60 L631.75,1258.60 L633.26,1258.60 L634.77,1258.60 L636.28,1258.60 L637.79,1258.60 L639.29,1258.60 L640.80,1258.60 L642.31,1258.60 L643.82,1258.60 L645.33,1258.60 L646.84,1258.60 L648.35,1258.60 L649.86,1258.60 L651.37,1258.60 L652.88,1258.60 L654.39,1258.60 L655.90,1258.60 L657.41,1258.60 L658.92,1258.60 L660.43,1258.60 L661.94,1258.60 L663.45,1258.60 L664.96,1258.60 L666.47,1258.60 L667.98,1258.60 L669.49,1258.60 L671.00,1258.60 L672.51,1258.60 L674.02,1258.60 L675.53,1258.60 L677.04,1258.60 L678.55,1258.60 L680.06,1258.60 L681.57,1258.60 L683.08,1258.60 L684.59,1258.60 L686.10,1258.60 L687.61,1258.60 L689.12,1258.60 L690.63,1258.60 L692.13,1258.60 L693.64,1258.60 L695.15,1258.60 L696.66,1258.60 L698.17,1258.60 L699.68,1258.60 L701.19,1258.60 L702.70,1258.60 L704.21,1258.60 L705.72,1258.60 L707.23,1258.60 L708.74,1258.60 L710.25,1258.60 L711.76,1258.60 L713.27,1258.60 L714.78,1258.60 L716.29,1258.60 L717.80,1258.60 L717.80,1384.00 L719.31,1384.05 L720.82,1384.10 L722.33,1384.15 L723.84,1384.20 L725.35,1384.25 L726.86,1384.29 L728.37,1384.34 L729.88,1384.39 L731.39,1384.44 L732.90,1384.49 L734.41,1384.54 L735.92,1384.58 L737.43,1384.63 L738.94,1384.68 L740.45,1384.73 L741.96,1384.78 L743.47,1384.82 L744.97,1384.87 L746.48,1384.92 L747.99,1384.96 L749.50,1385.01 L751.01,1385.06 L752.52,1385.10 L754.03,1385.15 L755.54,1385.20 L757.05,1385.24 L758.56,1385.29 L760.07,1385.33 L761.58,1385.38 L763.09,1385.42 L764.60,1385.47 L766.11,1385.51 L767.62,1385.56 L769.13,1385.60 L770.64,1385.65 L772.15,1385.69 L773.66,1385.73 L775.17,1385.78 L776.68,1385.82 L778.19,1385.86 L779.70,1385.91 L781.21,1385.95 L782.72,1385.99 L784.23,1386.03 L785.74,1386.08 L787.25,1386.12 L788.76,1386.16 L790.27,1386.20 L791.78,1386.25 L793.29,1386.29 L794.80,1386.33 L796.31,1386.37 L797.81,1386.41 L799.32,1386.45 L800.83,1386.50 L802.34,1386.54 L803.85,1386.58 L805.36,1386.62 L806.87,1386.66 L808.38,1386.70 L809.89,1386.74 L811.40,1386.78 L812.91,1386.82 L814.42,1386.86 L815.93,1386.90 L817.44,1386.94 L818.95,1386.99 L820.46,1387.03 L821.97,1387.07 L823.48,1387.11 L824.99,1387.15 L826.50,1387.19 L828.01,1387.23 L829.52,1387.27 L831.03,1387.31 L832.54,1387.35 L834.05,1387.39 L835.56,1387.43 L837.07,1387.47 L838.58,1387.51 L840.09,1387.55 L841.60,1387.59 L843.11,1387.63 L844.62,1387.67 L846.13,1387.71 L847.64,1387.75 L849.15,1387.79 L850.65,1387.83 L852.16,1387.88 L853.67,1387.92 L855.18,1387.96 L856.69,1388.00 L858.20,1388.04 L859.71,1388.08 L861.22,1388.12 L862.73,1388.16 L864.24,1388.20 L865.75,1388.24 L867.26,1388.28 L868.77,1388.32 L870.28,1388.36 L871.79,1388.40 L873.30,1388.44 L874.81,1388.48 L876.32,1388.52 L877.83,1388.56 L879.34,1388.60 L880.85,1388.64 L882.36,1388.68 L883.87,1388.72 L885.38,1388.76 L886.89,1388.79 L888.40,1388.83 L889.91,1388.87 L891.42,1388.91 L892.93,1388.95 L894.44,1388.99 L895.95,1389.02 L897.46,1389.06 L898.97,1389.10 L900.48,1389.13 L901.99,1389.17 L903.49,1389.21 L905.00,1389.24 L906.51,1389.28 L908.02,1389.31 L909.53,1389.35 L911.04,1389.39 L912.55,1389.42 L914.06,1389.46 L915.57,1389.49 L917.08,1389.53 L918.59,1389.56 L920.10,1389.59 L921.61,1389.63 L923.12,1389.66 L924.63,1389.70 L926.14,1389.73 L927.65,1389.77 L929.16,1389.80 L930.67,1389.83 L932.18,1389.87 L933.69,1389.90 L935.20,1389.93 L936.71,1389.97 L938.22,1390.00 L939.73,1390.03 L941.24,1390.07 L942.75,1390.10 L944.26,1390.13 L945.77,1390.16 L947.28,1390.20 L948.79,1390.23 L950.30,1390.26 L951.81,1390.29 L953.32,1390.32 L954.83,1390.36 L956.33,1390.39 L957.84,1390.42 L959.35,1390.45 L960.86,1390.48 L962.37,1390.51 L963.88,1390.54 L965.39,1390.57 L966.90,1390.60 L968.41,1390.63 L969.92,1390.66 L971.43,1390.69 L972.94,1390.72 L974.45,1390.75 L975.96,1390.78 L977.47,1390.81 L978.98,1390.84 L980.49,1390.87 L982.00,1390.90 L982.00,1266.80 L983.51,1266.51 L985.02,1266.22 L986.53,1265.94 L988.04,1265.67 L989.55,1265.41 L991.06,1265.17 L992.57,1264.94 L994.08,1264.72 L995.59,1264.52 L997.10,1264.34 L998.61,1264.15 L1000.12,1263.98 L1001.63,1263.81 L1003.14,1263.65 L1004.65,1263.50 L1006.16,1263.35 L1007.67,1263.20 L1009.17,1263.06 L1010.68,1262.93 L1012.19,1262.80 L1013.70,1262.67 L1015.21,1262.54 L1016.72,1262.42 L1018.23,1262.30 L1019.74,1262.18 L1021.25,1262.07 L1022.76,1261.96 L1024.27,1261.85 L1025.78,1261.74 L1027.29,1261.64 L1028.80,1261.54 L1030.31,1261.44 L1031.82,1261.35 L1033.33,1261.26 L1034.84,1261.17 L1036.35,1261.08 L1037.86,1260.99 L1039.37,1260.91 L1040.88,1260.83 L1042.39,1260.74 L1043.90,1260.66 L1045.41,1260.58 L1046.92,1260.51 L1048.43,1260.43 L1049.94,1260.36 L1051.45,1260.29 L1052.96,1260.23 L1054.47,1260.17 L1055.98,1260.11 L1057.49,1260.05 L1059.00,1260.00 L1060.51,1259.96 L1062.01,1259.91 L1063.52,1259.87 L1065.03,1259.82 L1066.54,1259.78 L1068.05,1259.74 L1069.56,1259.70 L1071.07,1259.66 L1072.58,1259.63 L1074.09,1259.59 L1075.60,1259.56 L1077.11,1259.52 L1078.62,1259.49 L1080.13,1259.46 L1081.64,1259.43 L1083.15,1259.41 L1084.66,1259.38 L1086.17,1259.35 L1087.68,1259.33 L1089.19,1259.31 L1090.70,1259.29 L1092.21,1259.27 L1093.72,1259.25 L1095.23,1259.23 L1096.74,1259.22 L1098.25,1259.20 L1099.76,1259.18 L1101.27,1259.16 L1102.78,1259.14 L1104.29,1259.13 L1105.80,1259.11 L1107.31,1259.09 L1108.82,1259.08 L1110.33,1259.06 L1111.84,1259.05 L1113.35,1259.03 L1114.85,1259.02 L1116.36,1259.00 L1117.87,1258.99 L1119.38,1258.98 L1120.89,1258.96 L1122.40,1258.95 L1123.91,1258.94 L1125.42,1258.93 L1126.93,1258.92 L1128.44,1258.91 L1129.95,1258.90 L1131.46,1258.89 L1132.97,1258.88 L1134.48,1258.87 L1135.99,1258.86 L1137.50,1258.85 L1139.01,1258.84 L1140.52,1258.83 L1142.03,1258.83 L1143.54,1258.82 L1145.05,1258.81 L1146.56,1258.81 L1148.07,1258.80 L1149.58,1258.80 L1151.09,1258.79 L1152.60,1258.78 L1154.11,1258.78 L1155.62,1258.77 L1157.13,1258.77 L1158.64,1258.76 L1160.15,1258.76 L1161.66,1258.75 L1163.17,1258.75 L1164.68,1258.75 L1166.19,1258.74 L1167.69,1258.74 L1169.20,1258.73 L1170.71,1258.73 L1172.22,1258.72 L1173.73,1258.72 L1175.24,1258.71 L1176.75,1258.71 L1178.26,1258.70 L1179.77,1258.70 L1181.28,1258.70 L1182.79,1258.69 L1184.30,1258.69 L1185.81,1258.68 L1187.32,1258.68 L1188.83,1258.68 L1190.34,1258.67 L1191.85,1258.67 L1193.36,1258.67 L1194.87,1258.66 L1196.38,1258.66 L1197.89,1258.66 L1199.40,1258.65 L1200.91,1258.65 L1202.42,1258.65 L1203.93,1258.64 L1205.44,1258.64 L1206.95,1258.64 L1208.46,1258.64 L1209.97,1258.63 L1211.48,1258.63 L1212.99,1258.63 L1214.50,1258.63 L1216.01,1258.62 L1217.52,1258.62 L1219.03,1258.62 L1220.53,1258.62 L1222.04,1258.61 L1223.55,1258.61 L1225.06,1258.61 L1226.57,1258.61 L1228.08,1258.61 L1229.59,1258.61 L1231.10,1258.61 L1232.61,1258.60 L1234.12,1258.60 L1235.63,1258.60 L1237.14,1258.60 L1238.65,1258.60 L1240.16,1258.60 L1241.67,1258.60 L1243.18,1258.60 L1244.69,1258.60 L1246.20,1258.60" stroke="#ffd500"/>
<path d="M189.34,1258.60 L189.34,1134.20 L190.85,1134.29 L192.36,1134.39 L193.87,1134.48 L195.38,1134.57 L196.89,1134.67 L198.40,1134.76 L199.91,1134.85 L201.42,1134.95 L202.93,1135.04 L204.44,1135.13 L205.95,1135.23 L207.46,1135.32 L208.97,1135.42 L210.48,1135.51 L211.99,1135.61 L213.50,1135.70 L215.01,1135.80 L216.52,1135.89 L218.03,1135.99 L219.54,1136.08 L221.05,1136.18 L222.56,1136.27 L224.07,1136.37 L225.58,1136.47 L227.09,1136.56 L228.60,1136.67 L230.11,1136.77 L231.62,1136.88 L233.13,1136.99 L234.64,1137.10 L236.15,1137.22 L237.66,1137.34 L239.17,1137.45 L240.68,1137.57 L242.19,1137.69 L243.70,1137.81 L245.21,1137.93 L246.72,1138.05 L248.23,1138.16 L249.74,1138.28 L251.25,1138.39 L252.76,1138.50 L254.27,1138.61 L255.78,1138.71 L257.29,1138.81 L258.80,1138.91 L260.31,1139.00 L261.82,1139.08 L263.33,1139.16 L264.84,1139.24 L266.35,1139.31 L267.86,1139.37 L269.37,1139.42 L270.88,1139.47 L272.39,1139.50 L273.90,1139.54 L275.41,1139.57 L276.92,1139.61 L278.43,1139.64 L279.94,1139.67 L281.45,1139.70 L282.96,1139.73 L284.47,1139.76 L285.98,1139.79 L287.49,1139.82 L289.00,1139.84 L290.51,1139.87 L292.02,1139.89 L293.53,1139.91 L295.04,1139.93 L296.55,1139.94 L298.06,1139.96 L299.57,1139.97 L301.08,1139.98 L302.59,1139.99 L304.10,1140.00 L305.61,1140.00 L307.12,1140.00 L308.63,1139.99 L310.14,1139.98 L311.65,1139.96 L313.16,1139.94 L314.67,1139.90 L316.18,1139.87 L317.69,1139.83 L319.20,1139.78 L320.71,1139.73 L322.23,1139.67 L323.74,1139.61 L325.25,1139.55 L326.76,1139.49 L328.27,1139.42 L329.78,1139.35 L331.29,1139.28 L332.80,1139.21 L334.31,1139.14 L335.82,1139.06 L337.33,1138.99 L338.84,1138.92 L340.35,1138.84 L341.86,1138.77 L343.37,1138.70 L344.88,1138.62 L346.39,1138.53 L347.90,1138.44 L349.41,1138.35 L350.92,1138.25 L352.43,1138.15 L353.94,1138.04 L355.45,1137.94 L356.96,1137.82 L358.47,1137.71 L359.98,1137.59 L361.49,1137.47 L363.00,1137.35 L364.51,1137.23 L366.02,1137.10 L367.53,1136.98 L369.04,1136.85 L370.55,1136.72 L372.06,1136.59 L373.57,1136.46 L375.08,1136.33 L376.59,1136.20 L378.10,1136.07 L379.61,1135.95 L381.12,1135.82 L382.63,1135.69 L384.14,1135.57 L385.65,1135.44 L387.16,1135.32 L388.67,1135.20 L390.18,1135.07 L391.69,1134.94 L393.20,1134.81 L394.71,1134.67 L396.22,1134.53 L397.73,1134.39 L399.24,1134.24 L400.75,1134.10 L402.26,1133.95 L403.77,1133.80 L405.28,1133.66 L406.79,1133.51 L408.30,1133.36 L409.81,1133.22 L411.32,1133.08 L412.83,1132.93 L414.34,1132.79 L415.85,1132.66 L417.36,1132.52 L418.87,1132.39 L420.38,1132.27 L421.89,1132.15 L423.40,1132.03 L424.91,1131.92 L426.42,1131.81 L427.93,1131.71 L429.44,1131.62 L430.95,1131.53 L432.46,1131.45 L433.97,1131.38 L435.48,1131.31 L436.99,1131.24 L438.50,1131.18 L440.01,1131.12 L441.52,1131.06 L443.03,1131.00 L444.54,1130.95 L446.05,1130.90 L447.56,1130.85 L449.07,1130.81 L450.58,1130.77 L452.09,1130.73 L453.60,1130.70 L453.60,1255.20 L455.11,1255.43 L456.62,1255.66 L458.13,1255.88 L459.64,1256.09 L461.15,1256.30 L462.66,1256.48 L464.17,1256.65 L465.68,1256.81 L467.19,1256.94 L468.70,1257.05 L470.21,1257.15 L471.72,1257.25 L473.23,1257.35 L474.74,1257.44 L476.25,1257.53 L477.76,1257.61 L479.27,1257.69 L480.77,1257.76 L482.28,1257.83 L483.79,1257.89 L485.30,1257.95 L486.81,1258.00 L488.32,1258.04 L489.83,1258.07 L491.34,1258.10 L492.85,1258.13 L494.36,1258.16 L495.87,1258.18 L497.38,1258.21 L498.89,1258.23 L500.40,1258.25 L501.91,1258.27 L503.42,1258.29 L504.93,1258.31 L506.44,1258.33 L507.95,1258.35 L509.46,1258.37 L510.97,1258.39 L512.48,1258.40 L513.99,1258.41 L515.50,1258.43 L517.01,1258.44 L518.52,1258.45 L520.03,1258.46 L521.54,1258.47 L523.05,1258.48 L524.56,1258.49 L526.07,1258.49 L527.58,1258.50 L529.09,1258.50 L530.60,1258.50 L532.11,1258.50 L533.61,1258.50 L535.12,1258.51 L536.63,1258.51 L538.14,1258.51 L539.65,1258.51 L541.16,1258.51 L542.67,1258.52 L544.18,1258.52 L545.69,1258.52 L547.20,1258.52 L548.71,1258.52 L550.22,1258.52 L551.73,1258.53 L553.24,1258.53 L554.75,1258.53 L556.26,1258.53 L557.77,1258.53 L559.28,1258.53 L560.79,1258.53 L562.30,1258.54 L563.81,1258.54 L565.32,1258.54 L566.83,1258.54 L568.34,1258.54 L569.85,1258.54 L571.36,1258.54 L572.87,1258.55 L574.38,1258.55 L575.89,1258.55 L577.40,1258.55 L578.91,1258.55 L580.42,1258.55 L581.93,1258.55 L583.44,1258.55 L584.95,1258.56 L586.45,1258.56 L587.96,1258.56 L589.47,1258.56 L590.98,1258.56 L592.49,1258.56 L594.00,1258.56 L595.51,1258.56 L597.02,1258.56 L598.53,1258.57 L600.04,1258.57 L601.55,1258.57 L603.06,1258.57 L604.57,1258.57 L606.08,1258.57 L607.59,1258.57 L609.10,1258.57 L610.61,1258.57 L612.12,1258.57 L613.63,1258.57 L615.14,1258.58 L616.65,1258.58 L618.16,1258.58 L619.67,1258.58 L621.18,1258.58 L622.69,1258.58 L624.20,1258.58 L625.71,1258.58 L627.22,1258.58 L628.73,1258.58 L630.24,1258.58 L631.75,1258.58 L633.26,1258.58 L634.77,1258.58 L636.28,1258.59 L637.79,1258.59 L639.29,1258.59 L640.80,1258.59 L642.31,1258.59 L643.82,1258.59 L645.33,1258.59 L646.84,1258.59 L648.35,1258.59 L649.86,1258.59 L651.37,1258.59 L652.88,1258.59 L654.39,1258.59 L655.90,1258.59 L657.41,1258.59 L658.92,1258.59 L660.43,1258.59 L661.94,1258.59 L663.45,1258.59 L664.96,1258.59 L666.47,1258.59 L667.98,1258.59 L669.49,1258.60 L671.00,1258.60 L672.51,1258.60 L674.02,1258.60 L675.53,1258.60 L677.04,1258.60 L678.55,1258.60 L680.06,1258.60 L681.57,1258.60 L683.08,1258.60 L684.59,1258.60 L686.10,1258.60 L687.61,1258.60 L689.12,1258.60 L690.63,1258.60 L692.13,1258.60 L693.64,1258.60 L695.15,1258.60 L696.66,1258.60 L698.17,1258.60 L699.68,1258.60 L701.19,1258.60 L702.70,1258.60 L704.21,1258.60 L705.72,1258.60 L707.23,1258.60 L708.74,1258.60 L710.25,1258.60 L711.76,1258.60 L713.27,1258.60 L714.78,1258.60 L716.29,1258.60 L717.80,1258.60 L717.80,1382.60 L719.31,1382.79 L720.82,1382.98 L722.33,1383.17 L723.84,1383.35 L725.35,1383.52 L726.86,1383.69 L728.37,1383.86 L729.88,1384.02 L731.39,1384.17 L732.90,1384.32 L734.41,1384.46 L735.92,1384.60 L737.43,1384.73 L738.94,1384.84 L740.45,1384.96 L741.96,1385.06 L743.47,1385.16 L744.97,1385.24 L746.48,1385.32 L747.99,1385.39 L749.50,1385.47 L751.01,1385.54 L752.52,1385.62 L754.03,1385.69 L755.54,1385.75 L757.05,1385.82 L758.56,1385.87 L760.07,1385.93 L761.58,1385.98 L763.09,1386.02 L764.60,1386.05 L766.11,1386.08 L767.62,1386.09 L769.13,1386.10 L770.64,1386.10 L772.15,1386.09 L773.66,1386.08 L775.17,1386.07 L776.68,1386.05 L778.19,1386.03 L779.70,1386.01 L781.21,1385.98 L782.72,1385.95 L784.23,1385.92 L785.74,1385.89 L787.25,1385.86 L788.76,1385.83 L790.27,1385.79 L791.78,1385.76 L793.29,1385.71 L794.80,1385.66 L796.31,1385.61 L797.81,1385.55 L799.32,1385.49 L800.83,1385.42 L802.34,1385.35 L803.85,1385.27 L805.36,1385.19 L806.87,1385.11 L808.38,1385.02 L809.89,1384.93 L811.40,1384.84 L812.91,1384.75 L814.42,1384.65 L815.93,1384.55 L817.44,1384.44 L818.95,1384.31 L820.46,1384.18 L821.97,1384.03 L823.48,1383.88 L824.99,1383.71 L826.50,1383.54 L828.01,1383.37 L829.52,1383.19 L831.03,1383.02 L832.54,1382.84 L834.05,1382.66 L835.56,1382.49 L837.07,1382.32 L838.58,1382.16 L840.09,1382.01 L841.60,1381.87 L843.11,1381.73 L844.62,1381.61 L846.13,1381.50 L847.64,1381.40 L849.15,1381.30 L850.65,1381.20 L852.16,1381.11 L853.67,1381.02 L855.18,1380.94 L856.69,1380.85 L858.20,1380.77 L859.71,1380.69 L861.22,1380.60 L862.73,1380.52 L864.24,1380.44 L865.75,1380.36 L867.26,1380.27 L868.77,1380.19 L870.28,1380.11 L871.79,1380.03 L873.30,1379.95 L874.81,1379.87 L876.32,1379.79 L877.83,1379.71 L879.34,1379.63 L880.85,1379.55 L882.36,1379.47 L883.87,1379.39 L885.38,1379.32 L886.89,1379.24 L888.40,1379.17 L889.91,1379.10 L891.42,1379.03 L892.93,1378.96 L894.44,1378.89 L895.95,1378.83 L897.46,1378.77 L898.97,1378.70 L900.48,1378.64 L901.99,1378.59 L903.49,1378.53 L905.00,1378.48 L906.51,1378.43 L908.02,1378.38 L909.53,1378.33 L911.04,1378.29 L912.55,1378.24 L914.06,1378.20 L915.57,1378.16 L917.08,1378.12 L918.59,1378.08 L920.10,1378.04 L921.61,1378.00 L923.12,1377.96 L924.63,1377.93 L926.14,1377.89 L927.65,1377.86 L929.16,1377.82 L930.67,1377.79 L932.18,1377.76 L933.69,1377.72 L935.20,1377.69 L936.71,1377.66 L938.22,1377.63 L939.73,1377.59 L941.24,1377.56 L942.75,1377.53 L944.26,1377.50 L945.77,1377.47 L947.28,1377.44 L948.79,1377.40 L950.30,1377.37 L951.81,1377.34 L953.32,1377.30 L954.83,1377.27 L956.33,1377.24 L957.84,1377.20 L959.35,1377.17 L960.86,1377.14 L962.37,1377.11 L963.88,1377.07 L965.39,1377.04 L966.90,1377.01 L968.41,1376.98 L969.92,1376.95 L971.43,1376.92 L972.94,1376.88 L974.45,1376.85 L975.96,1376.82 L977.47,1376.79 L978.98,1376.76 L980.49,1376.73 L982.00,1376.70 L982.00,1252.90 L983.51,1253.00 L985.02,1253.10 L986.53,1253.20 L988.04,1253.29 L989.55,1253.39 L991.06,1253.48 L992.57,1253.58 L994.08,1253.67 L995.59,1253.76 L997.10,1253.85 L998.61,1253.93 L1000.12,1254.02 L1001.63,1254.10 L1003.14,1254.18 L1004.65,1254.26 L1006.16,1254.33 L1007.67,1254.40 L1009.17,1254.47 L1010.68,1254.54 L1012.19,1254.61 L1013.70,1254.67 L1015.21,1254.73 L1016.72,1254.78 L1018.23,1254.84 L1019.74,1254.89 L1021.25,1254.95 L1022.76,1255.00 L1024.27,1255.05 L1025.78,1255.10 L1027.29,1255.15 L1028.80,1255.19 L1030.31,1255.24 L1031.82,1255.29 L1033.33,1255.33 L1034.84,1255.37 L1036.35,1255.42 L1037.86,1255.46 L1039.37,1255.50 L1040.88,1255.54 L1042.39,1255.58 L1043.90,1255.62 L1045.41,1255.66 L1046.92,1255.70 L1048.43,1255.74 L1049.94,1255.77 L1051.45,1255.81 L1052.96,1255.85 L1054.47,1255.89 L1055.98,1255.92 L1057.49,1255.96 L1059.00,1256.00 L1060.51,1256.03 L1062.01,1256.07 L1063.52,1256.11 L1065.03,1256.15 L1066.54,1256.18 L1068.05,1256.22 L1069.56,1256.26 L1071.07,1256.30 L1072.58,1256.33 L1074.09,1256.37 L1075.60,1256.41 L1077.11,1256.45 L1078.62,1256.48 L1080.13,1256.52 L1081.64,1256.56 L1083.15,1256.59 L1084.66,1256.63 L1086.17,1256.66 L1087.68,1256.70 L1089.19,1256.73 L1090.70,1256.77 L1092.21,1256.80 L1093.72,1256.84 L1095.23,1256.87 L1096.74,1256.90 L1098.25,1256.93 L1099.76,1256.97 L1101.27,1257.00 L1102.78,1257.03 L1104.29,1257.06 L1105.80,1257.09 L1107.31,1257.12 L1108.82,1257.14 L1110.33,1257.17 L1111.84,1257.20 L1113.35,1257.22 L1114.85,1257.25 L1116.36,1257.27 L1117.87,1257.29 L1119.38,1257.32 L1120.89,1257.34 L1122.40,1257.36 L1123.91,1257.38 L1125.42,1257.39 L1126.93,1257.41 L1128.44,1257.43 L1129.95,1257.45 L1131.46,1257.46 L1132.97,1257.48 L1134.48,1257.50 L1135.99,1257.52 L1137.50,1257.53 L1139.01,1257.55 L1140.52,1257.57 L1142.03,1257.58 L1143.54,1257.60 L1145.05,1257.62 L1146.56,1257.63 L1148.07,1257.65 L1149.58,1257.67 L1151.09,1257.68 L1152.60,1257.70 L1154.11,1257.72 L1155.62,1257.73 L1157.13,1257.75 L1158.64,1257.76 L1160.15,1257.78 L1161.66,1257.80 L1163.17,1257.81 L1164.68,1257.83 L1166.19,1257.84 L1167.69,1257.86 L1169.20,1257.87 L1170.71,1257.89 L1172.22,1257.90 L1173.73,1257.91 L1175.24,1257.93 L1176.75,1257.94 L1178.26,1257.96 L1179.77,1257.97 L1181.28,1257.98 L1182.79,1258.00 L1184.30,1258.01 L1185.81,1258.02 L1187.32,1258.03 L1188.83,1258.05 L1190.34,1258.06 L1191.85,1258.07 L1193.36,1258.08 L1194.87,1258.09 L1196.38,1258.10 L1197.89,1258.12 L1199.40,1258.13 L1200.91,1258.14 L1202.42,1258.15 L1203.93,1258.16 L1205.44,1258.17 L1206.95,1258.17 L1208.46,1258.18 L1209.97,1258.19 L1211.48,1258.20 L1212.99,1258.21 L1214.50,1258.22 L1216.01,1258.22 L1217.52,1258.23 L1219.03,1258.24 L1220.53,1258.24 L1222.04,1258.25 L1223.55,1258.26 L1225.06,1258.26 L1226.57,1258.27 L1228.08,1258.27 L1229.59,1258.28 L1231.10,1258.28 L1232.61,1258.28 L1234.12,1258.29 L1235.63,1258.29 L1237.14,1258.29 L1238.65,1258.29 L1240.16,1258.30 L1241.67,1258.30 L1243.18,1258.30 L1244.69,1258.30 L1246.20,1258.30" stroke="#ff6200"/>
</g>
<rect x="136.5" y="1112.0" width="1162.50" height="292.20" fill="none" stroke="#000" stroke-width="1.9" stroke-linejoin="miter"/>
<g stroke="#000" stroke-width="1.9">
<line x1="189.34" y1="1404.2" x2="189.34" y2="1412.50"/>
<line x1="324.86" y1="1404.2" x2="324.86" y2="1412.50"/>
<line x1="460.38" y1="1404.2" x2="460.38" y2="1412.50"/>
<line x1="595.90" y1="1404.2" x2="595.90" y2="1412.50"/>
<line x1="731.42" y1="1404.2" x2="731.42" y2="1412.50"/>
<line x1="866.94" y1="1404.2" x2="866.94" y2="1412.50"/>
<line x1="1002.46" y1="1404.2" x2="1002.46" y2="1412.50"/>
<line x1="1137.98" y1="1404.2" x2="1137.98" y2="1412.50"/>
<line x1="1273.50" y1="1404.2" x2="1273.50" y2="1412.50"/>
<line x1="136.5" y1="1384.4" x2="128.20" y2="1384.4"/>
<line x1="136.5" y1="1321.6" x2="128.20" y2="1321.6"/>
<line x1="136.5" y1="1258.7" x2="128.20" y2="1258.7"/>
<line x1="136.5" y1="1195.8" x2="128.20" y2="1195.8"/>
<line x1="136.5" y1="1133.0" x2="128.20" y2="1133.0"/>
</g>
<g fill="#000" style="filter:grayscale(1)">
<text transform="translate(170.87,1438.90) scale(1.0484,1)" font-size="25.33">0.0</text>
<text transform="translate(306.41,1438.90) scale(1.0330,1)" font-size="25.33">0.2</text>
<text transform="translate(441.91,1438.90) scale(1.0479,1)" font-size="25.33">0.4</text>
<text transform="translate(577.43,1438.90) scale(1.0548,1)" font-size="25.33">0.6</text>
<text transform="translate(712.95,1438.90) scale(1.0505,1)" font-size="25.33">0.8</text>
<text transform="translate(848.54,1438.90) scale(1.0464,1)" font-size="25.33">1.0</text>
<text transform="translate(984.09,1438.90) scale(1.0305,1)" font-size="25.33">1.2</text>
<text transform="translate(1119.58,1438.90) scale(1.0459,1)" font-size="25.33">1.4</text>
<text transform="translate(1255.09,1438.90) scale(1.0529,1)" font-size="25.33">1.6</text>
<text transform="translate(33.30,1393.30) scale(1.1099,1)" font-size="25.33">−0.004</text>
<text transform="translate(33.31,1330.50) scale(1.1038,1)" font-size="25.33">−0.002</text>
<text transform="translate(52.70,1267.60) scale(1.0625,1)" font-size="25.33">0.000</text>
<text transform="translate(52.71,1204.70) scale(1.0543,1)" font-size="25.33">0.002</text>
<text transform="translate(52.70,1141.90) scale(1.0622,1)" font-size="25.33">0.004</text>
</g>
<g fill="#000" style="filter:grayscale(1)">
<text transform="translate(617.40,24.90) scale(1.0185,1)" font-size="30.40">Trained Triplet</text>
<text transform="translate(669.39,1470.80) scale(1.0718,1)" font-size="25.33">Time [s]</text>
<text transform="translate(45.80,286.95) rotate(-90) scale(1.0455,1)" font-size="25.33">Cable Current [A]</text>
<text transform="translate(37.70,594.87) rotate(-90) scale(0.9475,1)" font-size="25.33" font-style="italic">V</text>
<text transform="translate(41.80,579.08) rotate(-90) scale(1.0576,1)" font-size="17.73" font-style="italic">Term</text>
<text transform="translate(37.70,526.39) rotate(-90) scale(1.1000,1)" font-size="25.33">[V]</text>
<text transform="translate(22.70,941.89) rotate(-90) scale(0.9535,1)" font-size="25.33" font-style="italic">V</text>
<text transform="translate(26.80,926.06) rotate(-90) scale(0.9080,1)" font-size="17.73" font-style="italic">SC</text>
<text transform="translate(22.70,895.41) rotate(-90) scale(1.1147,1)" font-size="25.33">[V]</text>
<text transform="translate(17.60,1291.97) rotate(-90) scale(0.8996,1)" font-size="25.33" font-style="italic">V</text>
<text transform="translate(21.90,1276.11) rotate(-90) scale(0.9283,1)" font-size="17.73" font-style="italic">L</text>
<text transform="translate(17.60,1258.49) rotate(-90) scale(1.1037,1)" font-size="25.33">[V]</text>
<text transform="translate(1188.38,77.60) scale(1.0265,1)" font-size="25.33">Cable 0</text>
<text transform="translate(1188.39,112.00) scale(1.0189,1)" font-size="25.33">Cable 1</text>
<text transform="translate(1188.39,146.70) scale(1.0193,1)" font-size="25.33">Cable 2</text>
</g>
<line x1="1122.9" y1="69.4" x2="1170.0" y2="69.4" stroke="#005eff" stroke-width="3.65" stroke-linecap="square"/>
<line x1="1122.9" y1="104.15" x2="1170.0" y2="104.15" stroke="#ffd500" stroke-width="3.65" stroke-linecap="square"/>
<line x1="1122.9" y1="138.6" x2="1170.0" y2="138.6" stroke="#ff6200" stroke-width="3.65" stroke-linecap="square"/>
</svg>
</body></html>
